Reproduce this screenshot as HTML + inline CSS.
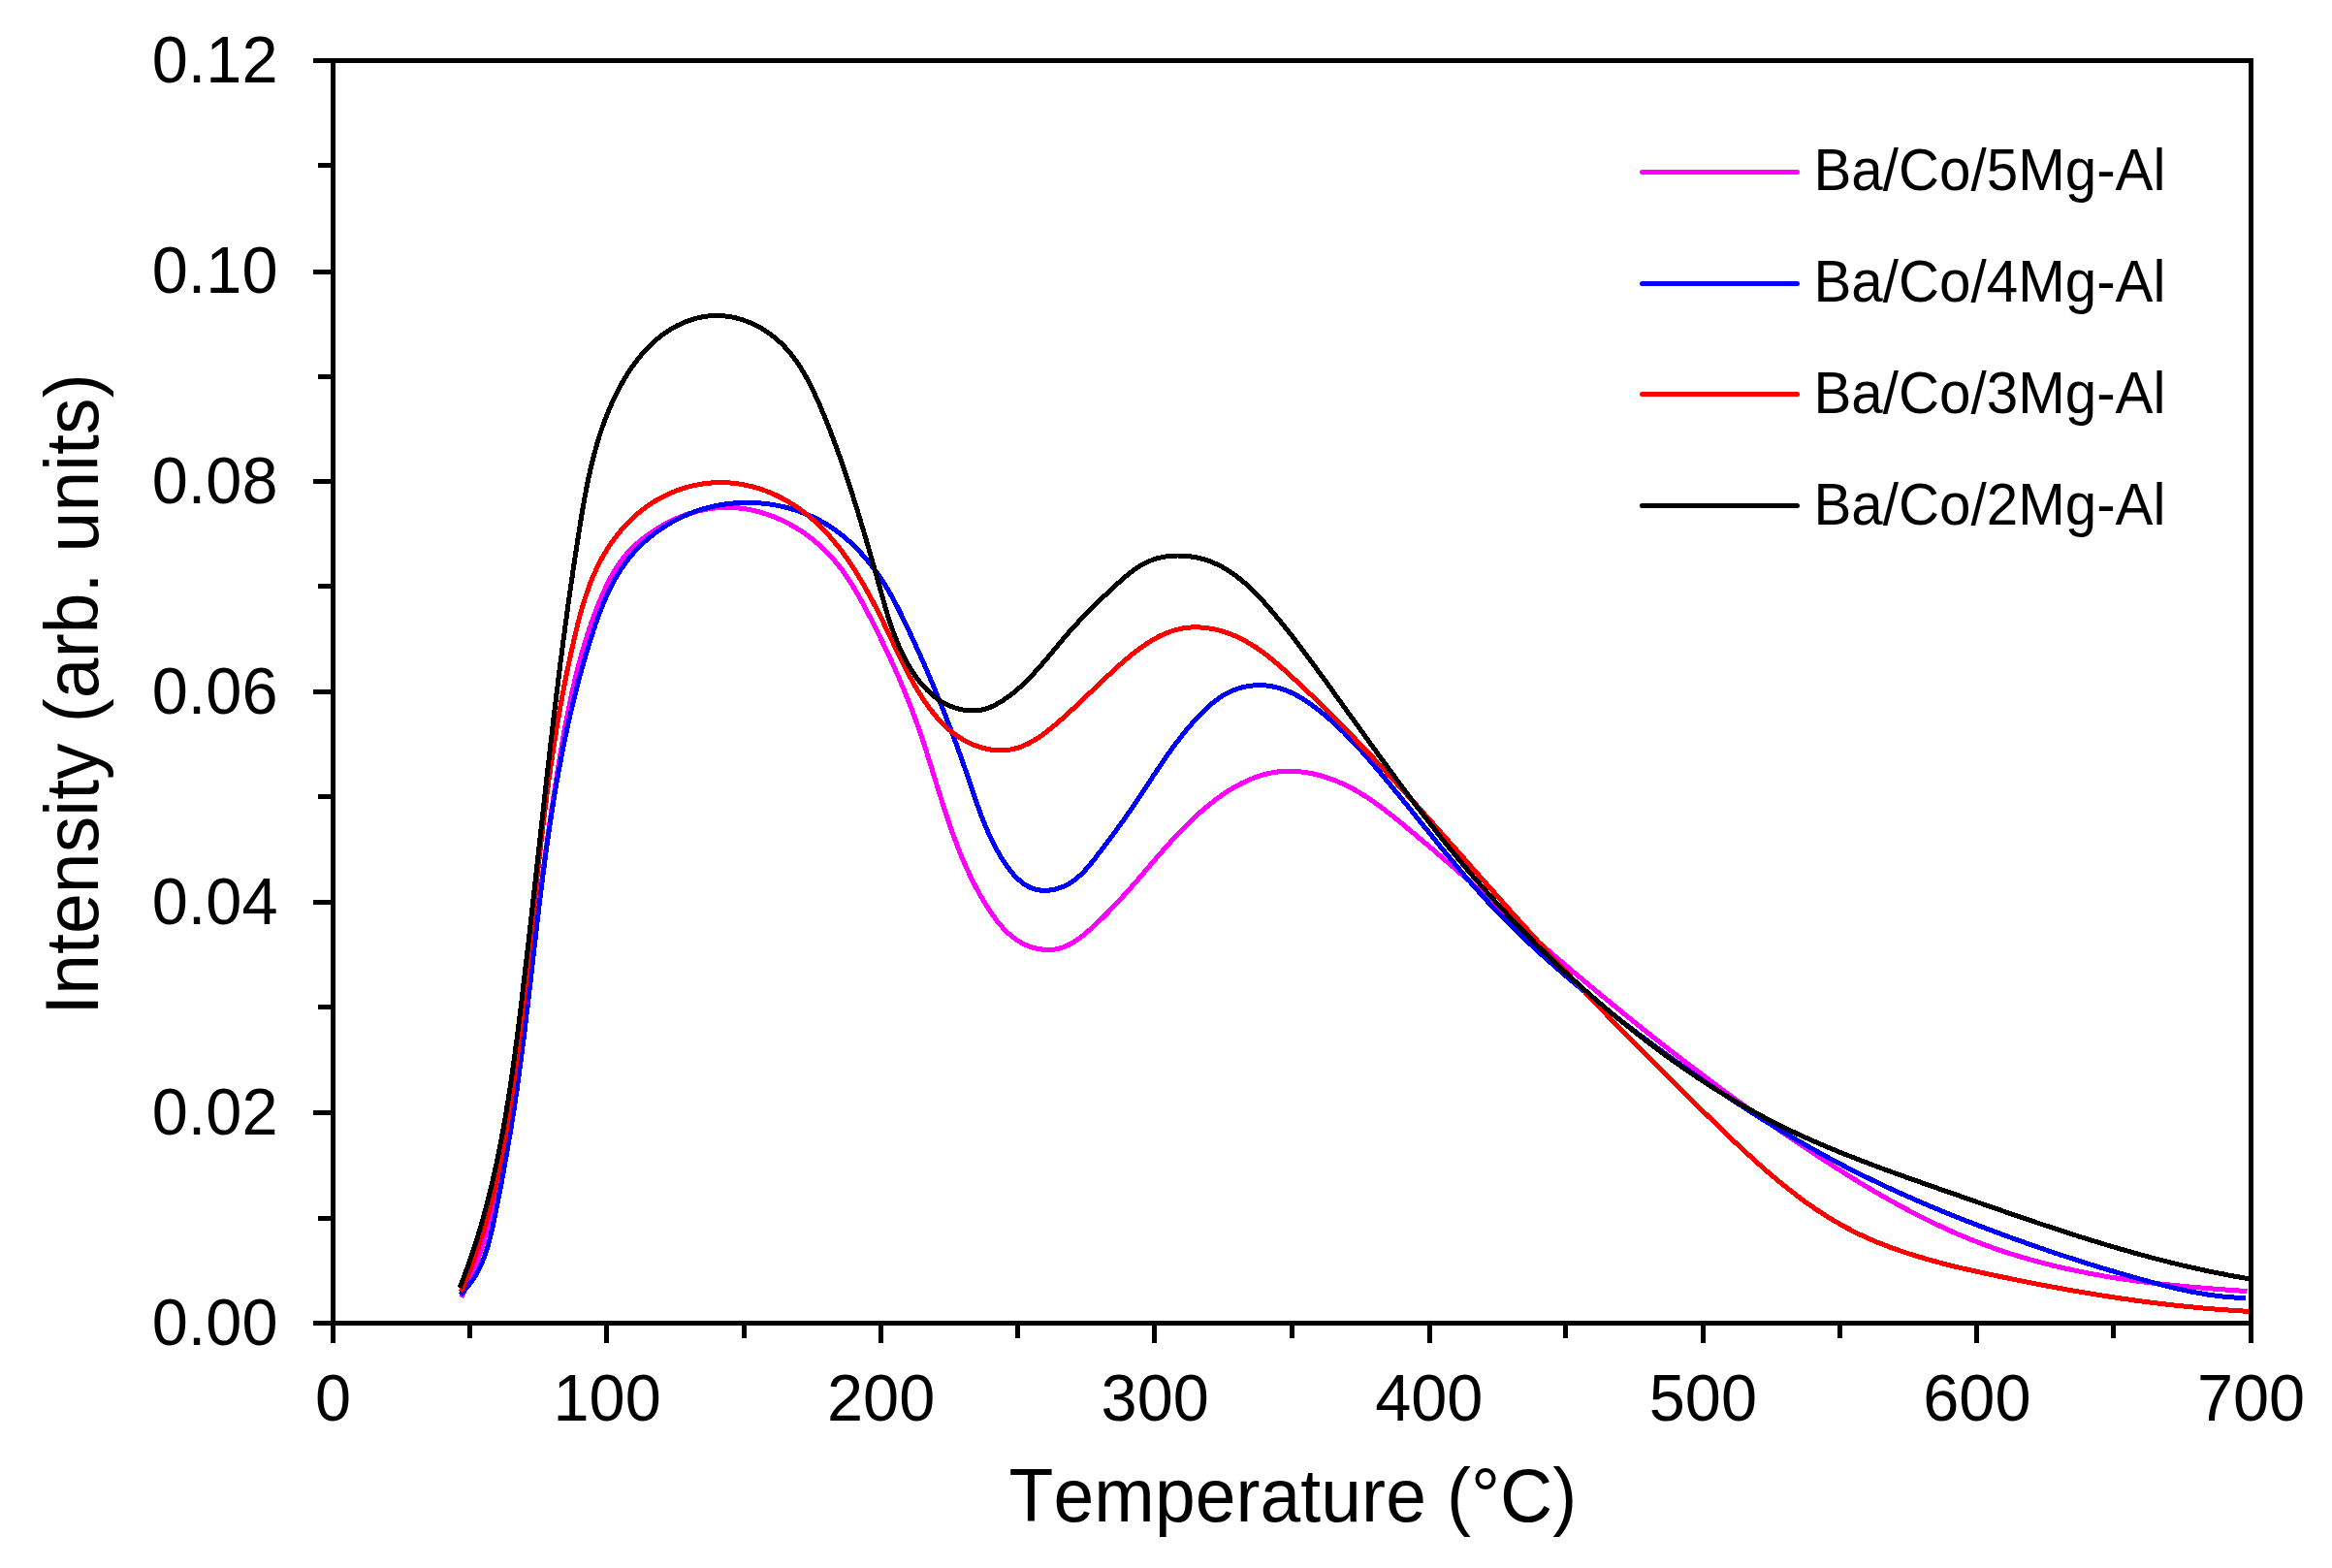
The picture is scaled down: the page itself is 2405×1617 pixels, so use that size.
<!DOCTYPE html>
<html><head><meta charset="utf-8"><title>TPD profiles</title>
<style>
html,body{margin:0;padding:0;background:#fff;}
svg{display:block;}
text{font-family:"Liberation Sans",Arial,Helvetica,sans-serif;fill:#000;font-kerning:none;}
.tk{font-size:66.67px;}
.ax{font-size:75px;}
.lg{font-size:58.33px;}
.cv{fill:none;shape-rendering:crispEdges;stroke-width:5;stroke-linejoin:round;stroke-linecap:butt;}
</style></head><body>
<svg width="2405" height="1617" viewBox="0 0 2405 1617">
<rect x="0" y="0" width="2405" height="1617" fill="#fff"/>
<path class="cv" stroke="#ff00ff" d="M475.7,1337.9 L477.1,1335.2 L478.5,1332.5 L479.8,1329.8 L481.1,1327.1 L482.4,1324.4 L483.7,1321.7 L484.9,1319.0 L486.1,1316.2 L487.2,1313.5 L488.4,1310.7 L489.5,1307.9 L490.6,1305.1 L491.6,1302.3 L492.6,1299.5 L493.7,1296.7 L494.6,1293.9 L495.6,1291.1 L496.6,1288.2 L497.5,1285.4 L498.4,1282.6 L499.3,1279.7 L500.1,1276.8 L501.0,1274.0 L501.8,1271.1 L502.6,1268.2 L503.4,1265.3 L504.2,1262.4 L504.9,1259.5 L505.7,1256.6 L506.4,1253.7 L507.1,1250.8 L507.8,1247.9 L508.5,1244.9 L509.2,1242.0 L509.8,1239.1 L510.5,1236.2 L511.1,1233.2 L511.7,1230.3 L512.4,1227.4 L513.0,1224.4 L513.6,1221.5 L514.2,1218.5 L514.8,1215.6 L515.4,1212.6 L516.0,1209.7 L516.5,1206.8 L517.1,1203.8 L517.7,1200.9 L518.2,1197.9 L518.8,1195.0 L519.3,1192.0 L519.9,1189.0 L520.4,1186.1 L520.9,1183.1 L521.4,1180.2 L522.0,1177.2 L522.5,1174.3 L523.0,1171.3 L523.5,1168.4 L524.0,1165.4 L524.5,1162.4 L525.0,1159.5 L525.5,1156.5 L525.9,1153.6 L526.4,1150.6 L526.9,1147.6 L527.3,1144.7 L527.8,1141.7 L528.3,1138.7 L528.7,1135.8 L529.2,1132.8 L529.6,1129.8 L530.1,1126.9 L530.5,1123.9 L530.9,1120.9 L531.4,1118.0 L531.8,1115.0 L532.2,1112.0 L532.7,1109.1 L533.1,1106.1 L533.5,1103.1 L533.9,1100.2 L534.3,1097.2 L534.7,1094.2 L535.1,1091.2 L535.6,1088.3 L536.0,1085.3 L536.4,1082.3 L536.8,1079.4 L537.2,1076.4 L537.5,1073.4 L537.9,1070.4 L538.3,1067.5 L538.7,1064.5 L539.1,1061.5 L539.5,1058.5 L539.9,1055.6 L540.3,1052.6 L540.7,1049.6 L541.0,1046.6 L541.4,1043.7 L541.8,1040.7 L542.2,1037.7 L542.6,1034.8 L542.9,1031.8 L543.3,1028.8 L543.7,1025.8 L544.1,1022.9 L544.5,1019.9 L544.8,1016.9 L545.2,1013.9 L545.6,1011.0 L546.0,1008.0 L546.3,1005.0 L546.7,1002.0 L547.1,999.1 L547.5,996.1 L547.8,993.1 L548.2,990.1 L548.6,987.2 L549.0,984.2 L549.3,981.2 L549.7,978.2 L550.1,975.3 L550.5,972.3 L550.8,969.3 L551.2,966.4 L551.6,963.4 L552.0,960.4 L552.4,957.4 L552.7,954.5 L553.1,951.5 L553.5,948.5 L553.9,945.5 L554.3,942.6 L554.6,939.6 L555.0,936.6 L555.4,933.7 L555.8,930.7 L556.2,927.7 L556.6,924.7 L557.0,921.8 L557.3,918.8 L557.7,915.8 L558.1,912.8 L558.5,909.9 L558.9,906.9 L559.3,903.9 L559.7,901.0 L560.1,898.0 L560.5,895.0 L560.9,892.0 L561.3,889.1 L561.7,886.1 L562.1,883.1 L562.5,880.2 L562.9,877.2 L563.3,874.2 L563.7,871.3 L564.2,868.3 L564.6,865.3 L565.0,862.3 L565.4,859.4 L565.8,856.4 L566.3,853.4 L566.7,850.5 L567.1,847.5 L567.5,844.5 L568.0,841.6 L568.4,838.6 L568.8,835.6 L569.3,832.6 L569.7,829.7 L570.2,826.7 L570.6,823.7 L571.1,820.8 L571.5,817.8 L572.0,814.8 L572.4,811.9 L572.9,808.9 L573.3,805.9 L573.8,803.0 L574.3,800.0 L574.8,797.0 L575.2,794.1 L575.7,791.1 L576.2,788.1 L576.7,785.2 L577.1,782.2 L577.6,779.2 L578.1,776.3 L578.6,773.3 L579.1,770.3 L579.6,767.4 L580.1,764.4 L580.7,761.5 L581.2,758.5 L581.7,755.5 L582.2,752.6 L582.8,749.6 L583.3,746.7 L583.9,743.7 L584.5,740.8 L585.0,737.8 L585.6,734.9 L586.2,731.9 L586.8,729.0 L587.4,726.0 L588.0,723.1 L588.6,720.2 L589.2,717.2 L589.9,714.3 L590.5,711.4 L591.2,708.5 L591.9,705.5 L592.5,702.6 L593.2,699.7 L593.9,696.8 L594.7,693.9 L595.4,691.0 L596.1,688.1 L596.9,685.2 L597.7,682.3 L598.4,679.4 L599.2,676.5 L600.0,673.6 L600.9,670.7 L601.7,667.9 L602.6,665.0 L603.4,662.1 L604.3,659.3 L605.2,656.4 L606.1,653.6 L607.1,650.7 L608.0,647.9 L609.0,645.1 L609.9,642.2 L610.9,639.4 L612.0,636.6 L613.0,633.8 L614.0,631.0 L615.1,628.2 L616.2,625.4 L617.3,622.6 L618.4,619.8 L619.6,617.0 L620.8,614.3 L622.0,611.5 L623.2,608.8 L624.5,606.1 L625.7,603.4 L627.1,600.7 L628.4,598.0 L629.8,595.4 L631.3,592.8 L632.8,590.2 L634.3,587.7 L635.9,585.2 L637.5,582.7 L639.2,580.2 L641.0,577.9 L642.8,575.5 L644.6,573.2 L646.5,570.9 L648.5,568.7 L650.6,566.6 L652.7,564.5 L654.9,562.4 L657.1,560.4 L659.4,558.4 L661.7,556.5 L664.1,554.6 L666.5,552.8 L669.0,551.0 L671.5,549.3 L674.0,547.6 L676.5,545.9 L679.1,544.3 L681.8,542.7 L684.4,541.2 L687.1,539.8 L689.8,538.4 L692.5,537.0 L695.3,535.7 L698.1,534.5 L700.9,533.3 L703.7,532.2 L706.6,531.1 L709.4,530.1 L712.3,529.2 L715.2,528.3 L718.1,527.5 L721.0,526.7 L724.0,526.1 L726.9,525.5 L729.9,524.9 L732.8,524.5 L735.8,524.1 L738.7,523.8 L741.7,523.5 L744.7,523.4 L747.6,523.3 L750.6,523.3 L753.6,523.4 L756.5,523.5 L759.5,523.7 L762.4,524.0 L765.4,524.3 L768.3,524.8 L771.2,525.2 L774.1,525.8 L777.0,526.4 L779.9,527.1 L782.8,527.8 L785.7,528.7 L788.5,529.5 L791.4,530.5 L794.2,531.5 L797.0,532.5 L799.8,533.6 L802.5,534.8 L805.3,536.0 L808.0,537.3 L810.7,538.6 L813.4,540.0 L816.0,541.5 L818.7,543.0 L821.3,544.5 L823.8,546.1 L826.4,547.7 L828.9,549.4 L831.3,551.2 L833.8,553.0 L836.2,554.8 L838.6,556.7 L840.9,558.6 L843.2,560.5 L845.5,562.5 L847.7,564.6 L849.9,566.6 L852.1,568.7 L854.2,570.9 L856.2,573.1 L858.3,575.3 L860.2,577.6 L862.2,579.8 L864.1,582.2 L865.9,584.5 L867.7,586.9 L869.5,589.3 L871.2,591.7 L872.9,594.2 L874.6,596.7 L876.2,599.2 L877.8,601.7 L879.4,604.2 L881.0,606.8 L882.5,609.4 L884.0,612.0 L885.5,614.6 L887.0,617.2 L888.4,619.8 L889.9,622.5 L891.3,625.1 L892.7,627.8 L894.1,630.4 L895.5,633.1 L896.9,635.7 L898.3,638.4 L899.6,641.1 L901.0,643.8 L902.4,646.4 L903.7,649.1 L905.1,651.8 L906.4,654.5 L907.7,657.2 L909.0,659.9 L910.3,662.6 L911.6,665.3 L912.9,668.0 L914.2,670.7 L915.5,673.4 L916.8,676.1 L918.0,678.9 L919.3,681.6 L920.5,684.3 L921.8,687.0 L923.0,689.8 L924.2,692.5 L925.4,695.3 L926.6,698.0 L927.8,700.7 L929.0,703.5 L930.1,706.3 L931.3,709.0 L932.4,711.8 L933.6,714.6 L934.7,717.3 L935.8,720.1 L936.9,722.9 L938.0,725.7 L939.1,728.5 L940.2,731.3 L941.2,734.1 L942.3,736.9 L943.3,739.7 L944.4,742.5 L945.4,745.3 L946.4,748.1 L947.4,751.0 L948.4,753.8 L949.3,756.6 L950.3,759.5 L951.3,762.3 L952.2,765.2 L953.1,768.0 L954.1,770.9 L955.0,773.7 L955.9,776.6 L956.8,779.5 L957.7,782.3 L958.6,785.2 L959.5,788.1 L960.4,790.9 L961.3,793.8 L962.2,796.7 L963.1,799.5 L963.9,802.4 L964.8,805.3 L965.7,808.1 L966.6,811.0 L967.5,813.9 L968.4,816.7 L969.3,819.6 L970.2,822.5 L971.1,825.3 L972.0,828.2 L972.9,831.1 L973.8,833.9 L974.7,836.8 L975.7,839.6 L976.6,842.5 L977.6,845.3 L978.5,848.1 L979.5,851.0 L980.5,853.8 L981.5,856.6 L982.5,859.5 L983.5,862.3 L984.6,865.1 L985.6,867.9 L986.7,870.7 L987.8,873.5 L988.8,876.3 L990.0,879.0 L991.1,881.8 L992.2,884.6 L993.4,887.3 L994.6,890.1 L995.8,892.8 L997.0,895.5 L998.3,898.3 L999.5,901.0 L1000.8,903.7 L1002.1,906.4 L1003.5,909.1 L1004.8,911.7 L1006.2,914.4 L1007.6,917.1 L1009.1,919.7 L1010.5,922.3 L1012.0,925.0 L1013.6,927.6 L1015.1,930.2 L1016.7,932.8 L1018.3,935.3 L1020.0,937.9 L1021.6,940.4 L1023.3,943.0 L1025.1,945.4 L1026.9,947.9 L1028.7,950.3 L1030.6,952.6 L1032.6,954.9 L1034.6,957.2 L1036.6,959.3 L1038.7,961.4 L1040.9,963.4 L1043.2,965.3 L1045.5,967.1 L1047.9,968.9 L1050.3,970.5 L1052.9,972.0 L1055.5,973.4 L1058.2,974.6 L1061.0,975.7 L1063.8,976.7 L1066.8,977.6 L1069.8,978.3 L1072.8,978.8 L1075.8,979.2 L1078.9,979.4 L1081.9,979.4 L1084.9,979.3 L1087.9,979.0 L1090.8,978.5 L1093.6,977.8 L1096.4,976.9 L1099.1,975.8 L1101.8,974.6 L1104.4,973.2 L1106.9,971.8 L1109.4,970.2 L1111.9,968.5 L1114.3,966.7 L1116.7,964.8 L1119.1,962.9 L1121.4,960.9 L1123.7,958.9 L1125.9,956.9 L1128.2,954.8 L1130.4,952.8 L1132.6,950.7 L1134.8,948.6 L1137.0,946.5 L1139.1,944.4 L1141.3,942.2 L1143.4,940.1 L1145.5,937.9 L1147.5,935.8 L1149.6,933.6 L1151.7,931.4 L1153.7,929.2 L1155.8,927.0 L1157.8,924.8 L1159.8,922.6 L1161.8,920.4 L1163.8,918.2 L1165.8,915.9 L1167.7,913.7 L1169.7,911.4 L1171.7,909.2 L1173.6,906.9 L1175.6,904.7 L1177.5,902.4 L1179.5,900.1 L1181.4,897.9 L1183.4,895.6 L1185.3,893.3 L1187.3,891.0 L1189.2,888.8 L1191.2,886.5 L1193.1,884.2 L1195.1,882.0 L1197.1,879.7 L1199.0,877.5 L1201.0,875.2 L1203.0,873.0 L1205.0,870.7 L1207.0,868.5 L1209.0,866.3 L1211.0,864.1 L1213.1,861.9 L1215.1,859.7 L1217.2,857.6 L1219.3,855.4 L1221.4,853.3 L1223.5,851.2 L1225.6,849.0 L1227.7,847.0 L1229.9,844.9 L1232.1,842.8 L1234.3,840.8 L1236.5,838.8 L1238.8,836.8 L1241.0,834.8 L1243.3,832.9 L1245.7,831.0 L1248.0,829.1 L1250.4,827.2 L1252.8,825.4 L1255.2,823.6 L1257.7,821.8 L1260.1,820.0 L1262.7,818.3 L1265.2,816.6 L1267.7,815.0 L1270.3,813.4 L1272.9,811.9 L1275.6,810.4 L1278.2,809.0 L1280.9,807.6 L1283.6,806.3 L1286.3,805.0 L1289.0,803.8 L1291.8,802.7 L1294.6,801.7 L1297.4,800.7 L1300.2,799.8 L1303.1,798.9 L1305.9,798.2 L1308.8,797.5 L1311.7,796.9 L1314.6,796.4 L1317.5,796.0 L1320.5,795.7 L1323.4,795.5 L1326.4,795.3 L1329.4,795.3 L1332.4,795.3 L1335.4,795.5 L1338.4,795.7 L1341.4,795.9 L1344.4,796.3 L1347.4,796.7 L1350.4,797.3 L1353.4,797.8 L1356.3,798.5 L1359.3,799.2 L1362.2,800.0 L1365.2,800.9 L1368.1,801.8 L1370.9,802.7 L1373.8,803.8 L1376.6,804.8 L1379.4,806.0 L1382.1,807.1 L1384.9,808.4 L1387.6,809.7 L1390.3,811.0 L1392.9,812.3 L1395.6,813.7 L1398.2,815.2 L1400.7,816.7 L1403.3,818.2 L1405.9,819.8 L1408.4,821.4 L1410.9,823.0 L1413.4,824.6 L1415.8,826.3 L1418.3,828.0 L1420.7,829.8 L1423.1,831.5 L1425.5,833.3 L1427.9,835.1 L1430.3,837.0 L1432.7,838.8 L1435.1,840.7 L1437.4,842.5 L1439.8,844.4 L1442.1,846.3 L1444.4,848.2 L1446.8,850.1 L1449.1,852.0 L1451.4,854.0 L1453.7,855.9 L1456.0,857.8 L1458.3,859.7 L1460.6,861.7 L1462.9,863.6 L1465.2,865.5 L1467.5,867.5 L1469.8,869.4 L1472.1,871.3 L1474.4,873.3 L1476.7,875.2 L1478.9,877.2 L1481.2,879.1 L1483.5,881.1 L1485.8,883.1 L1488.0,885.0 L1490.3,887.0 L1492.6,888.9 L1494.8,890.9 L1497.1,892.9 L1499.4,894.8 L1501.6,896.8 L1503.9,898.8 L1506.1,900.7 L1508.4,902.7 L1510.6,904.7 L1512.9,906.7 L1515.2,908.6 L1517.4,910.6 L1519.7,912.6 L1521.9,914.6 L1524.2,916.5 L1526.4,918.5 L1528.6,920.5 L1530.9,922.5 L1533.1,924.5 L1535.4,926.4 L1537.6,928.4 L1539.9,930.4 L1542.1,932.4 L1544.4,934.4 L1546.6,936.3 L1548.9,938.3 L1551.1,940.3 L1553.4,942.3 L1555.6,944.3 L1557.9,946.2 L1560.1,948.2 L1562.4,950.2 L1564.6,952.2 L1566.9,954.1 L1569.1,956.1 L1571.4,958.1 L1573.6,960.1 L1575.9,962.0 L1578.1,964.0 L1580.4,966.0 L1582.6,967.9 L1584.9,969.9 L1587.2,971.9 L1589.4,973.8 L1591.7,975.8 L1594.0,977.8 L1596.2,979.7 L1598.5,981.7 L1600.8,983.6 L1603.1,985.6 L1605.4,987.5 L1607.6,989.5 L1609.9,991.4 L1612.2,993.4 L1614.5,995.3 L1616.8,997.3 L1619.1,999.2 L1621.4,1001.2 L1623.7,1003.1 L1626.0,1005.0 L1628.2,1007.0 L1630.5,1008.9 L1632.8,1010.8 L1635.2,1012.8 L1637.5,1014.7 L1639.8,1016.6 L1642.1,1018.5 L1644.4,1020.4 L1646.7,1022.4 L1649.0,1024.3 L1651.3,1026.2 L1653.6,1028.1 L1656.0,1030.0 L1658.3,1031.9 L1660.6,1033.8 L1662.9,1035.7 L1665.3,1037.6 L1667.6,1039.5 L1669.9,1041.4 L1672.3,1043.3 L1674.6,1045.2 L1676.9,1047.1 L1679.3,1049.0 L1681.6,1050.9 L1683.9,1052.7 L1686.3,1054.6 L1688.6,1056.5 L1691.0,1058.4 L1693.3,1060.2 L1695.7,1062.1 L1698.0,1064.0 L1700.4,1065.8 L1702.7,1067.7 L1705.1,1069.6 L1707.4,1071.4 L1709.8,1073.3 L1712.2,1075.1 L1714.5,1077.0 L1716.9,1078.8 L1719.3,1080.6 L1721.6,1082.5 L1724.0,1084.3 L1726.4,1086.2 L1728.7,1088.0 L1731.1,1089.8 L1733.5,1091.6 L1735.9,1093.5 L1738.3,1095.3 L1740.6,1097.1 L1743.0,1098.9 L1745.4,1100.7 L1747.8,1102.5 L1750.2,1104.3 L1752.6,1106.2 L1755.0,1108.0 L1757.4,1109.7 L1759.8,1111.5 L1762.2,1113.3 L1764.5,1115.1 L1767.0,1116.9 L1769.4,1118.7 L1771.8,1120.5 L1774.2,1122.2 L1776.6,1124.0 L1779.0,1125.8 L1781.4,1127.6 L1783.8,1129.3 L1786.2,1131.1 L1788.7,1132.8 L1791.1,1134.6 L1793.5,1136.3 L1795.9,1138.1 L1798.4,1139.8 L1800.8,1141.6 L1803.2,1143.3 L1805.7,1145.1 L1808.1,1146.8 L1810.5,1148.5 L1813.0,1150.2 L1815.4,1152.0 L1817.9,1153.7 L1820.3,1155.4 L1822.8,1157.1 L1825.2,1158.8 L1827.7,1160.5 L1830.1,1162.2 L1832.6,1163.9 L1835.1,1165.6 L1837.5,1167.3 L1840.0,1169.0 L1842.5,1170.7 L1845.0,1172.4 L1847.4,1174.1 L1849.9,1175.7 L1852.4,1177.4 L1854.9,1179.1 L1857.4,1180.7 L1859.9,1182.4 L1862.4,1184.1 L1864.9,1185.7 L1867.4,1187.4 L1869.9,1189.0 L1872.4,1190.7 L1874.9,1192.3 L1877.4,1194.0 L1879.9,1195.6 L1882.5,1197.2 L1885.0,1198.8 L1887.5,1200.5 L1890.1,1202.1 L1892.6,1203.7 L1895.1,1205.3 L1897.7,1206.9 L1900.2,1208.5 L1902.8,1210.1 L1905.3,1211.7 L1907.9,1213.3 L1910.4,1214.9 L1913.0,1216.5 L1915.6,1218.0 L1918.1,1219.6 L1920.7,1221.2 L1923.3,1222.7 L1925.9,1224.3 L1928.5,1225.8 L1931.1,1227.3 L1933.6,1228.9 L1936.2,1230.4 L1938.8,1231.9 L1941.5,1233.4 L1944.1,1234.9 L1946.7,1236.4 L1949.3,1237.8 L1951.9,1239.3 L1954.6,1240.8 L1957.2,1242.2 L1959.8,1243.7 L1962.5,1245.1 L1965.1,1246.5 L1967.8,1247.9 L1970.4,1249.3 L1973.1,1250.7 L1975.7,1252.1 L1978.4,1253.5 L1981.1,1254.8 L1983.8,1256.2 L1986.5,1257.5 L1989.1,1258.9 L1991.8,1260.2 L1994.5,1261.5 L1997.2,1262.8 L2000.0,1264.0 L2002.7,1265.3 L2005.4,1266.6 L2008.1,1267.8 L2010.8,1269.0 L2013.6,1270.3 L2016.3,1271.5 L2019.1,1272.7 L2021.8,1273.8 L2024.6,1275.0 L2027.3,1276.1 L2030.1,1277.3 L2032.9,1278.4 L2035.7,1279.5 L2038.5,1280.6 L2041.2,1281.6 L2044.0,1282.7 L2046.8,1283.8 L2049.7,1284.8 L2052.5,1285.8 L2055.3,1286.8 L2058.1,1287.8 L2060.9,1288.8 L2063.8,1289.7 L2066.6,1290.7 L2069.5,1291.6 L2072.3,1292.5 L2075.2,1293.4 L2078.0,1294.3 L2080.9,1295.2 L2083.7,1296.0 L2086.6,1296.9 L2089.5,1297.7 L2092.4,1298.5 L2095.2,1299.4 L2098.1,1300.1 L2101.0,1300.9 L2103.9,1301.7 L2106.8,1302.5 L2109.7,1303.2 L2112.6,1303.9 L2115.5,1304.7 L2118.4,1305.4 L2121.4,1306.1 L2124.3,1306.8 L2127.2,1307.4 L2130.1,1308.1 L2133.1,1308.7 L2136.0,1309.4 L2138.9,1310.0 L2141.9,1310.6 L2144.8,1311.2 L2147.7,1311.8 L2150.7,1312.4 L2153.6,1313.0 L2156.6,1313.5 L2159.5,1314.1 L2162.5,1314.6 L2165.4,1315.1 L2168.4,1315.7 L2171.4,1316.2 L2174.3,1316.7 L2177.3,1317.2 L2180.2,1317.6 L2183.2,1318.1 L2186.2,1318.5 L2189.2,1319.0 L2192.1,1319.4 L2195.1,1319.9 L2198.1,1320.3 L2201.0,1320.7 L2204.0,1321.1 L2207.0,1321.5 L2210.0,1321.9 L2213.0,1322.2 L2215.9,1322.6 L2218.9,1323.0 L2221.9,1323.3 L2224.9,1323.6 L2227.9,1324.0 L2230.8,1324.3 L2233.8,1324.6 L2236.8,1324.9 L2239.8,1325.3 L2242.8,1325.6 L2245.8,1325.9 L2248.8,1326.1 L2251.8,1326.4 L2254.7,1326.7 L2257.7,1327.0 L2260.7,1327.3 L2263.7,1327.5 L2266.7,1327.8 L2269.7,1328.0 L2272.7,1328.3 L2275.7,1328.5 L2278.7,1328.8 L2281.6,1329.0 L2284.6,1329.2 L2287.6,1329.5 L2290.6,1329.7 L2293.6,1329.9 L2296.6,1330.1 L2299.6,1330.4 L2302.5,1330.6 L2305.5,1330.8 L2308.5,1331.0 L2311.5,1331.2 L2314.5,1331.4 L2317.5,1331.6"/>
<path class="cv" stroke="#0000ff" d="M474.6,1335.0 L476.9,1332.7 L479.1,1330.4 L481.2,1328.1 L483.2,1325.7 L485.0,1323.3 L486.8,1320.8 L488.5,1318.3 L490.1,1315.8 L491.6,1313.2 L493.0,1310.6 L494.4,1307.9 L495.7,1305.3 L496.9,1302.6 L498.0,1299.8 L499.1,1297.1 L500.1,1294.3 L501.1,1291.5 L502.0,1288.7 L502.9,1285.8 L503.7,1283.0 L504.5,1280.1 L505.2,1277.2 L506.0,1274.3 L506.6,1271.4 L507.3,1268.4 L508.0,1265.5 L508.6,1262.6 L509.2,1259.6 L509.8,1256.7 L510.4,1253.7 L511.0,1250.8 L511.6,1247.8 L512.2,1244.9 L512.8,1242.0 L513.4,1239.0 L514.0,1236.1 L514.5,1233.1 L515.1,1230.2 L515.7,1227.2 L516.2,1224.3 L516.8,1221.3 L517.4,1218.4 L517.9,1215.4 L518.5,1212.5 L519.0,1209.5 L519.5,1206.6 L520.1,1203.6 L520.6,1200.7 L521.1,1197.7 L521.7,1194.8 L522.2,1191.8 L522.7,1188.9 L523.2,1185.9 L523.7,1183.0 L524.2,1180.0 L524.7,1177.1 L525.2,1174.1 L525.7,1171.2 L526.2,1168.2 L526.7,1165.2 L527.2,1162.3 L527.7,1159.3 L528.1,1156.4 L528.6,1153.4 L529.1,1150.4 L529.5,1147.5 L530.0,1144.5 L530.4,1141.6 L530.9,1138.6 L531.3,1135.6 L531.8,1132.7 L532.2,1129.7 L532.6,1126.7 L533.1,1123.8 L533.5,1120.8 L533.9,1117.8 L534.3,1114.9 L534.7,1111.9 L535.1,1108.9 L535.5,1106.0 L535.9,1103.0 L536.3,1100.0 L536.7,1097.0 L537.1,1094.1 L537.5,1091.1 L537.9,1088.1 L538.3,1085.2 L538.7,1082.2 L539.0,1079.2 L539.4,1076.2 L539.8,1073.3 L540.2,1070.3 L540.5,1067.3 L540.9,1064.3 L541.3,1061.3 L541.6,1058.4 L542.0,1055.4 L542.3,1052.4 L542.7,1049.4 L543.0,1046.4 L543.4,1043.5 L543.8,1040.5 L544.1,1037.5 L544.5,1034.5 L544.8,1031.5 L545.1,1028.6 L545.5,1025.6 L545.8,1022.6 L546.2,1019.6 L546.5,1016.6 L546.9,1013.7 L547.2,1010.7 L547.5,1007.7 L547.9,1004.7 L548.2,1001.7 L548.6,998.7 L548.9,995.8 L549.2,992.8 L549.6,989.8 L549.9,986.8 L550.3,983.8 L550.6,980.8 L550.9,977.9 L551.3,974.9 L551.6,971.9 L552.0,968.9 L552.3,965.9 L552.6,963.0 L553.0,960.0 L553.3,957.0 L553.7,954.0 L554.0,951.0 L554.4,948.0 L554.7,945.1 L555.1,942.1 L555.4,939.1 L555.8,936.1 L556.1,933.1 L556.5,930.2 L556.9,927.2 L557.2,924.2 L557.6,921.2 L558.0,918.3 L558.3,915.3 L558.7,912.3 L559.1,909.3 L559.4,906.4 L559.8,903.4 L560.2,900.4 L560.6,897.4 L561.0,894.5 L561.4,891.5 L561.8,888.5 L562.1,885.5 L562.5,882.6 L562.9,879.6 L563.4,876.6 L563.8,873.6 L564.2,870.7 L564.6,867.7 L565.0,864.7 L565.4,861.8 L565.9,858.8 L566.3,855.8 L566.7,852.9 L567.2,849.9 L567.6,847.0 L568.1,844.0 L568.5,841.0 L569.0,838.1 L569.4,835.1 L569.9,832.1 L570.4,829.2 L570.8,826.2 L571.3,823.3 L571.8,820.3 L572.3,817.4 L572.8,814.4 L573.3,811.5 L573.8,808.5 L574.3,805.5 L574.8,802.6 L575.4,799.7 L575.9,796.7 L576.4,793.8 L577.0,790.8 L577.5,787.9 L578.1,784.9 L578.6,782.0 L579.2,779.0 L579.8,776.1 L580.4,773.2 L580.9,770.2 L581.5,767.3 L582.1,764.3 L582.7,761.4 L583.4,758.5 L584.0,755.5 L584.6,752.6 L585.2,749.7 L585.9,746.8 L586.5,743.8 L587.2,740.9 L587.8,738.0 L588.5,735.1 L589.2,732.1 L589.9,729.2 L590.6,726.3 L591.3,723.4 L592.0,720.5 L592.7,717.6 L593.4,714.6 L594.2,711.7 L594.9,708.8 L595.7,705.9 L596.4,703.0 L597.2,700.1 L598.0,697.2 L598.8,694.3 L599.6,691.4 L600.4,688.5 L601.2,685.6 L602.0,682.7 L602.8,679.8 L603.7,676.9 L604.5,674.0 L605.4,671.2 L606.3,668.3 L607.2,665.4 L608.1,662.5 L609.0,659.6 L609.9,656.7 L610.8,653.9 L611.7,651.0 L612.7,648.1 L613.6,645.3 L614.6,642.4 L615.6,639.6 L616.6,636.7 L617.7,633.9 L618.7,631.1 L619.8,628.3 L620.9,625.5 L622.0,622.7 L623.2,619.9 L624.4,617.2 L625.6,614.5 L626.8,611.8 L628.1,609.1 L629.4,606.4 L630.8,603.7 L632.1,601.1 L633.6,598.5 L635.0,595.9 L636.5,593.4 L638.0,590.9 L639.6,588.4 L641.2,585.9 L642.9,583.5 L644.6,581.1 L646.3,578.7 L648.2,576.3 L650.0,574.0 L651.9,571.8 L653.9,569.5 L655.9,567.3 L657.9,565.2 L660.0,563.1 L662.2,561.0 L664.4,559.0 L666.7,557.0 L668.9,555.0 L671.3,553.1 L673.7,551.2 L676.1,549.4 L678.5,547.6 L681.0,545.9 L683.5,544.2 L686.1,542.6 L688.7,541.0 L691.3,539.4 L694.0,537.9 L696.6,536.5 L699.4,535.1 L702.1,533.8 L704.9,532.5 L707.6,531.2 L710.4,530.1 L713.3,528.9 L716.1,527.9 L719.0,526.9 L721.9,525.9 L724.7,525.0 L727.7,524.2 L730.6,523.4 L733.5,522.7 L736.5,522.0 L739.4,521.4 L742.4,520.8 L745.4,520.3 L748.3,519.9 L751.3,519.5 L754.3,519.2 L757.3,518.9 L760.3,518.7 L763.3,518.5 L766.3,518.4 L769.3,518.4 L772.3,518.4 L775.3,518.4 L778.3,518.5 L781.3,518.7 L784.3,518.9 L787.3,519.2 L790.3,519.5 L793.3,519.9 L796.2,520.4 L799.2,520.9 L802.1,521.4 L805.0,522.0 L808.0,522.7 L810.9,523.4 L813.8,524.1 L816.6,525.0 L819.5,525.8 L822.3,526.8 L825.1,527.7 L827.9,528.8 L830.7,529.9 L833.4,531.0 L836.2,532.2 L838.9,533.4 L841.5,534.7 L844.2,536.1 L846.8,537.5 L849.4,539.0 L852.0,540.5 L854.5,542.0 L857.0,543.6 L859.5,545.3 L861.9,547.0 L864.3,548.8 L866.7,550.6 L869.1,552.5 L871.4,554.4 L873.6,556.3 L875.9,558.3 L878.1,560.3 L880.3,562.4 L882.4,564.5 L884.5,566.7 L886.6,568.8 L888.6,571.1 L890.6,573.3 L892.6,575.6 L894.6,577.9 L896.5,580.2 L898.3,582.6 L900.2,585.0 L902.0,587.4 L903.8,589.8 L905.5,592.3 L907.2,594.8 L908.9,597.3 L910.5,599.8 L912.1,602.3 L913.7,604.9 L915.2,607.4 L916.8,610.0 L918.3,612.6 L919.7,615.2 L921.2,617.8 L922.6,620.5 L924.0,623.1 L925.4,625.8 L926.7,628.4 L928.1,631.1 L929.4,633.8 L930.7,636.5 L932.0,639.2 L933.3,641.9 L934.6,644.6 L935.9,647.3 L937.2,650.0 L938.4,652.7 L939.7,655.4 L941.0,658.2 L942.2,660.9 L943.5,663.6 L944.7,666.4 L945.9,669.1 L947.2,671.8 L948.4,674.6 L949.6,677.3 L950.8,680.1 L952.1,682.8 L953.3,685.6 L954.5,688.3 L955.7,691.1 L956.9,693.8 L958.0,696.6 L959.2,699.4 L960.4,702.1 L961.6,704.9 L962.7,707.7 L963.9,710.5 L965.0,713.2 L966.2,716.0 L967.3,718.8 L968.5,721.6 L969.6,724.4 L970.7,727.2 L971.8,729.9 L972.9,732.7 L974.1,735.5 L975.2,738.3 L976.3,741.1 L977.3,743.9 L978.4,746.7 L979.5,749.5 L980.6,752.3 L981.6,755.1 L982.7,757.9 L983.7,760.7 L984.8,763.5 L985.8,766.4 L986.9,769.2 L987.9,772.0 L988.9,774.8 L989.9,777.6 L990.9,780.4 L991.9,783.2 L992.9,786.1 L993.9,788.9 L994.9,791.7 L995.9,794.5 L996.8,797.3 L997.8,800.1 L998.8,803.0 L999.7,805.8 L1000.7,808.6 L1001.6,811.4 L1002.5,814.3 L1003.5,817.1 L1004.4,819.9 L1005.4,822.7 L1006.4,825.5 L1007.4,828.3 L1008.3,831.1 L1009.4,833.9 L1010.4,836.7 L1011.4,839.5 L1012.5,842.3 L1013.6,845.1 L1014.7,847.9 L1015.8,850.6 L1017.0,853.4 L1018.1,856.2 L1019.4,858.9 L1020.6,861.7 L1021.9,864.4 L1023.2,867.1 L1024.6,869.8 L1026.0,872.6 L1027.4,875.3 L1028.9,877.9 L1030.5,880.6 L1032.0,883.3 L1033.7,885.9 L1035.4,888.6 L1037.1,891.2 L1038.9,893.8 L1040.8,896.3 L1042.7,898.7 L1044.6,901.1 L1046.7,903.3 L1048.8,905.5 L1051.0,907.5 L1053.2,909.4 L1055.5,911.2 L1057.9,912.7 L1060.3,914.2 L1062.9,915.4 L1065.5,916.4 L1068.2,917.2 L1071.0,917.8 L1073.8,918.2 L1076.7,918.3 L1079.6,918.3 L1082.5,918.0 L1085.5,917.6 L1088.4,917.0 L1091.3,916.2 L1094.1,915.2 L1096.9,914.1 L1099.6,912.8 L1102.3,911.4 L1104.8,909.8 L1107.3,908.1 L1109.7,906.3 L1112.0,904.4 L1114.2,902.4 L1116.4,900.3 L1118.5,898.1 L1120.6,895.8 L1122.6,893.5 L1124.6,891.1 L1126.6,888.7 L1128.5,886.3 L1130.4,883.9 L1132.2,881.4 L1134.1,879.0 L1135.9,876.5 L1137.7,874.1 L1139.6,871.7 L1141.4,869.3 L1143.2,866.9 L1144.9,864.5 L1146.7,862.2 L1148.5,859.8 L1150.3,857.4 L1152.0,855.1 L1153.7,852.7 L1155.5,850.3 L1157.2,847.9 L1158.9,845.6 L1160.6,843.2 L1162.3,840.7 L1164.0,838.3 L1165.7,835.9 L1167.4,833.4 L1169.0,831.0 L1170.7,828.5 L1172.4,826.0 L1174.0,823.5 L1175.7,821.0 L1177.3,818.5 L1179.0,816.0 L1180.6,813.5 L1182.3,811.0 L1183.9,808.5 L1185.6,806.0 L1187.3,803.4 L1188.9,800.9 L1190.6,798.4 L1192.3,795.9 L1193.9,793.4 L1195.6,790.9 L1197.3,788.4 L1199.0,785.9 L1200.8,783.4 L1202.5,780.9 L1204.2,778.4 L1206.0,775.9 L1207.7,773.5 L1209.5,771.0 L1211.3,768.6 L1213.1,766.2 L1214.9,763.8 L1216.8,761.4 L1218.6,759.0 L1220.5,756.7 L1222.4,754.4 L1224.3,752.0 L1226.2,749.7 L1228.2,747.5 L1230.2,745.2 L1232.2,743.0 L1234.2,740.8 L1236.2,738.6 L1238.3,736.4 L1240.4,734.3 L1242.5,732.2 L1244.7,730.2 L1246.9,728.2 L1249.2,726.2 L1251.4,724.3 L1253.8,722.5 L1256.2,720.7 L1258.6,719.0 L1261.1,717.4 L1263.6,715.9 L1266.3,714.5 L1269.0,713.2 L1271.7,712.0 L1274.5,710.9 L1277.4,709.9 L1280.4,709.0 L1283.4,708.3 L1286.5,707.7 L1289.6,707.3 L1292.7,706.9 L1295.8,706.7 L1298.8,706.6 L1301.9,706.7 L1304.9,706.9 L1307.9,707.2 L1310.8,707.6 L1313.7,708.2 L1316.6,708.9 L1319.4,709.6 L1322.2,710.5 L1325.0,711.5 L1327.7,712.6 L1330.4,713.7 L1333.1,715.0 L1335.8,716.3 L1338.4,717.7 L1341.0,719.2 L1343.5,720.7 L1346.1,722.3 L1348.6,724.0 L1351.1,725.7 L1353.5,727.4 L1355.9,729.2 L1358.3,731.0 L1360.7,732.9 L1363.1,734.8 L1365.4,736.7 L1367.7,738.6 L1370.0,740.6 L1372.2,742.6 L1374.5,744.6 L1376.7,746.6 L1378.9,748.6 L1381.1,750.7 L1383.2,752.8 L1385.4,754.8 L1387.5,757.0 L1389.6,759.1 L1391.7,761.2 L1393.8,763.4 L1395.8,765.6 L1397.9,767.8 L1399.9,769.9 L1401.9,772.2 L1404.0,774.4 L1406.0,776.6 L1408.0,778.9 L1409.9,781.1 L1411.9,783.4 L1413.9,785.6 L1415.8,787.9 L1417.8,790.2 L1419.7,792.5 L1421.7,794.8 L1423.6,797.0 L1425.5,799.3 L1427.5,801.6 L1429.4,803.9 L1431.3,806.3 L1433.2,808.6 L1435.1,810.9 L1437.0,813.2 L1438.9,815.5 L1440.8,817.8 L1442.7,820.2 L1444.6,822.5 L1446.5,824.8 L1448.4,827.2 L1450.3,829.5 L1452.2,831.8 L1454.1,834.2 L1456.0,836.5 L1457.9,838.8 L1459.7,841.2 L1461.6,843.5 L1463.5,845.9 L1465.4,848.2 L1467.3,850.5 L1469.2,852.9 L1471.1,855.2 L1472.9,857.5 L1474.8,859.9 L1476.7,862.2 L1478.6,864.5 L1480.5,866.9 L1482.4,869.2 L1484.3,871.5 L1486.2,873.9 L1488.1,876.2 L1490.0,878.5 L1491.9,880.8 L1493.8,883.1 L1495.7,885.4 L1497.6,887.7 L1499.6,890.0 L1501.5,892.3 L1503.4,894.6 L1505.3,896.9 L1507.3,899.2 L1509.2,901.5 L1511.2,903.8 L1513.1,906.0 L1515.1,908.3 L1517.1,910.6 L1519.0,912.8 L1521.0,915.1 L1523.0,917.3 L1525.0,919.5 L1527.0,921.8 L1529.0,924.0 L1531.0,926.2 L1533.0,928.4 L1535.1,930.6 L1537.1,932.8 L1539.2,935.0 L1541.2,937.1 L1543.3,939.3 L1545.3,941.5 L1547.4,943.6 L1549.5,945.8 L1551.6,947.9 L1553.7,950.0 L1555.8,952.1 L1558.0,954.3 L1560.1,956.4 L1562.2,958.5 L1564.4,960.6 L1566.5,962.6 L1568.7,964.7 L1570.9,966.8 L1573.0,968.8 L1575.2,970.9 L1577.4,973.0 L1579.6,975.0 L1581.8,977.0 L1584.0,979.1 L1586.2,981.1 L1588.4,983.1 L1590.6,985.1 L1592.9,987.1 L1595.1,989.1 L1597.3,991.1 L1599.6,993.1 L1601.8,995.1 L1604.1,997.1 L1606.4,999.0 L1608.6,1001.0 L1610.9,1003.0 L1613.2,1004.9 L1615.4,1006.9 L1617.7,1008.8 L1620.0,1010.8 L1622.3,1012.7 L1624.6,1014.6 L1626.9,1016.5 L1629.2,1018.5 L1631.5,1020.4 L1633.8,1022.3 L1636.1,1024.2 L1638.5,1026.1 L1640.8,1028.0 L1643.1,1029.9 L1645.4,1031.8 L1647.8,1033.7 L1650.1,1035.5 L1652.5,1037.4 L1654.8,1039.3 L1657.2,1041.1 L1659.5,1043.0 L1661.9,1044.9 L1664.2,1046.7 L1666.6,1048.6 L1669.0,1050.4 L1671.3,1052.2 L1673.7,1054.1 L1676.1,1055.9 L1678.5,1057.7 L1680.8,1059.5 L1683.2,1061.4 L1685.6,1063.2 L1688.0,1065.0 L1690.4,1066.8 L1692.8,1068.6 L1695.2,1070.4 L1697.6,1072.2 L1700.0,1074.0 L1702.5,1075.7 L1704.9,1077.5 L1707.3,1079.3 L1709.7,1081.1 L1712.1,1082.8 L1714.6,1084.6 L1717.0,1086.4 L1719.4,1088.1 L1721.9,1089.9 L1724.3,1091.6 L1726.7,1093.4 L1729.2,1095.1 L1731.6,1096.8 L1734.1,1098.6 L1736.5,1100.3 L1739.0,1102.0 L1741.4,1103.7 L1743.9,1105.5 L1746.4,1107.2 L1748.8,1108.9 L1751.3,1110.6 L1753.8,1112.3 L1756.2,1114.0 L1758.7,1115.7 L1761.2,1117.4 L1763.7,1119.1 L1766.1,1120.8 L1768.6,1122.4 L1771.1,1124.1 L1773.6,1125.8 L1776.1,1127.5 L1778.6,1129.1 L1781.1,1130.8 L1783.6,1132.4 L1786.1,1134.1 L1788.6,1135.7 L1791.1,1137.4 L1793.6,1139.0 L1796.2,1140.6 L1798.7,1142.3 L1801.2,1143.9 L1803.7,1145.5 L1806.2,1147.1 L1808.8,1148.7 L1811.3,1150.3 L1813.9,1151.9 L1816.4,1153.5 L1818.9,1155.1 L1821.5,1156.7 L1824.0,1158.2 L1826.6,1159.8 L1829.1,1161.4 L1831.7,1162.9 L1834.3,1164.5 L1836.8,1166.0 L1839.4,1167.5 L1842.0,1169.1 L1844.6,1170.6 L1847.1,1172.1 L1849.7,1173.6 L1852.3,1175.2 L1854.9,1176.7 L1857.5,1178.2 L1860.1,1179.6 L1862.7,1181.1 L1865.3,1182.6 L1867.9,1184.1 L1870.5,1185.5 L1873.1,1187.0 L1875.8,1188.5 L1878.4,1189.9 L1881.0,1191.3 L1883.6,1192.8 L1886.3,1194.2 L1888.9,1195.6 L1891.5,1197.0 L1894.2,1198.4 L1896.8,1199.8 L1899.5,1201.2 L1902.2,1202.6 L1904.8,1204.0 L1907.5,1205.4 L1910.2,1206.7 L1912.8,1208.1 L1915.5,1209.4 L1918.2,1210.8 L1920.9,1212.1 L1923.6,1213.4 L1926.3,1214.7 L1928.9,1216.0 L1931.6,1217.3 L1934.4,1218.6 L1937.1,1219.9 L1939.8,1221.2 L1942.5,1222.5 L1945.2,1223.8 L1947.9,1225.0 L1950.6,1226.3 L1953.4,1227.5 L1956.1,1228.8 L1958.8,1230.0 L1961.6,1231.3 L1964.3,1232.5 L1967.1,1233.7 L1969.8,1234.9 L1972.5,1236.1 L1975.3,1237.3 L1978.1,1238.5 L1980.8,1239.7 L1983.6,1240.9 L1986.3,1242.1 L1989.1,1243.2 L1991.9,1244.4 L1994.6,1245.6 L1997.4,1246.7 L2000.2,1247.9 L2002.9,1249.0 L2005.7,1250.1 L2008.5,1251.3 L2011.3,1252.4 L2014.1,1253.5 L2016.9,1254.6 L2019.7,1255.7 L2022.4,1256.9 L2025.2,1258.0 L2028.0,1259.1 L2030.8,1260.1 L2033.6,1261.2 L2036.4,1262.3 L2039.2,1263.4 L2042.0,1264.5 L2044.8,1265.5 L2047.6,1266.6 L2050.4,1267.7 L2053.3,1268.7 L2056.1,1269.8 L2058.9,1270.8 L2061.7,1271.8 L2064.5,1272.9 L2067.3,1273.9 L2070.1,1274.9 L2073.0,1276.0 L2075.8,1277.0 L2078.6,1278.0 L2081.4,1279.0 L2084.2,1280.0 L2087.1,1281.0 L2089.9,1282.0 L2092.7,1283.0 L2095.5,1284.0 L2098.4,1285.0 L2101.2,1286.0 L2104.0,1287.0 L2106.9,1287.9 L2109.7,1288.9 L2112.5,1289.9 L2115.4,1290.8 L2118.2,1291.8 L2121.1,1292.7 L2123.9,1293.7 L2126.7,1294.6 L2129.6,1295.5 L2132.4,1296.5 L2135.3,1297.4 L2138.1,1298.3 L2141.0,1299.2 L2143.8,1300.2 L2146.7,1301.1 L2149.6,1302.0 L2152.4,1302.9 L2155.3,1303.8 L2158.1,1304.6 L2161.0,1305.5 L2163.9,1306.4 L2166.7,1307.3 L2169.6,1308.2 L2172.5,1309.0 L2175.3,1309.9 L2178.2,1310.7 L2181.1,1311.6 L2184.0,1312.4 L2186.8,1313.3 L2189.7,1314.1 L2192.6,1314.9 L2195.5,1315.8 L2198.4,1316.6 L2201.3,1317.4 L2204.2,1318.2 L2207.0,1319.0 L2209.9,1319.8 L2212.8,1320.6 L2215.7,1321.4 L2218.6,1322.2 L2221.5,1323.0 L2224.4,1323.7 L2227.3,1324.5 L2230.3,1325.2 L2233.2,1326.0 L2236.1,1326.7 L2239.0,1327.4 L2241.9,1328.1 L2244.8,1328.8 L2247.8,1329.5 L2250.7,1330.1 L2253.6,1330.7 L2256.6,1331.4 L2259.5,1332.0 L2262.4,1332.5 L2265.4,1333.1 L2268.3,1333.6 L2271.3,1334.1 L2274.2,1334.6 L2277.2,1335.1 L2280.1,1335.5 L2283.1,1335.9 L2286.1,1336.3 L2289.1,1336.7 L2292.0,1337.0 L2295.0,1337.3 L2298.0,1337.6 L2301.0,1337.8 L2304.0,1338.0 L2307.0,1338.2 L2310.0,1338.3 L2313.0,1338.4 L2316.0,1338.5"/>
<path class="cv" stroke="#ff0000" d="M475.4,1332.2 L476.6,1329.4 L477.8,1326.7 L479.0,1323.9 L480.2,1321.1 L481.3,1318.4 L482.5,1315.6 L483.6,1312.8 L484.7,1310.0 L485.7,1307.2 L486.8,1304.4 L487.9,1301.6 L488.9,1298.8 L489.9,1296.0 L490.9,1293.2 L491.9,1290.4 L492.9,1287.5 L493.8,1284.7 L494.7,1281.9 L495.7,1279.0 L496.6,1276.2 L497.5,1273.3 L498.4,1270.4 L499.2,1267.6 L500.1,1264.7 L500.9,1261.8 L501.7,1259.0 L502.5,1256.1 L503.3,1253.2 L504.1,1250.3 L504.9,1247.4 L505.7,1244.5 L506.4,1241.6 L507.1,1238.7 L507.9,1235.8 L508.6,1232.9 L509.3,1230.0 L510.0,1227.1 L510.6,1224.2 L511.3,1221.2 L512.0,1218.3 L512.6,1215.4 L513.3,1212.4 L513.9,1209.5 L514.5,1206.6 L515.1,1203.6 L515.7,1200.7 L516.3,1197.8 L516.9,1194.8 L517.4,1191.9 L518.0,1188.9 L518.6,1186.0 L519.1,1183.0 L519.7,1180.1 L520.2,1177.1 L520.7,1174.1 L521.2,1171.2 L521.7,1168.2 L522.2,1165.2 L522.7,1162.3 L523.2,1159.3 L523.7,1156.4 L524.2,1153.4 L524.7,1150.4 L525.1,1147.4 L525.6,1144.5 L526.1,1141.5 L526.5,1138.5 L527.0,1135.6 L527.4,1132.6 L527.9,1129.6 L528.3,1126.7 L528.7,1123.7 L529.1,1120.7 L529.6,1117.7 L530.0,1114.8 L530.4,1111.8 L530.8,1108.8 L531.2,1105.8 L531.6,1102.9 L532.0,1099.9 L532.4,1096.9 L532.8,1093.9 L533.2,1091.0 L533.6,1088.0 L534.0,1085.0 L534.4,1082.0 L534.7,1079.1 L535.1,1076.1 L535.5,1073.1 L535.8,1070.1 L536.2,1067.1 L536.6,1064.2 L536.9,1061.2 L537.3,1058.2 L537.6,1055.2 L538.0,1052.3 L538.3,1049.3 L538.7,1046.3 L539.0,1043.3 L539.4,1040.3 L539.7,1037.4 L540.1,1034.4 L540.4,1031.4 L540.7,1028.4 L541.1,1025.4 L541.4,1022.5 L541.7,1019.5 L542.1,1016.5 L542.4,1013.5 L542.7,1010.6 L543.0,1007.6 L543.4,1004.6 L543.7,1001.6 L544.0,998.6 L544.3,995.7 L544.6,992.7 L544.9,989.7 L545.3,986.7 L545.6,983.7 L545.9,980.8 L546.2,977.8 L546.5,974.8 L546.8,971.8 L547.2,968.8 L547.5,965.9 L547.8,962.9 L548.1,959.9 L548.4,956.9 L548.7,953.9 L549.0,951.0 L549.3,948.0 L549.7,945.0 L550.0,942.0 L550.3,939.0 L550.6,936.1 L550.9,933.1 L551.2,930.1 L551.5,927.1 L551.9,924.1 L552.2,921.2 L552.5,918.2 L552.8,915.2 L553.1,912.2 L553.4,909.3 L553.8,906.3 L554.1,903.3 L554.4,900.3 L554.7,897.3 L555.1,894.4 L555.4,891.4 L555.7,888.4 L556.1,885.4 L556.4,882.5 L556.7,879.5 L557.1,876.5 L557.4,873.5 L557.7,870.6 L558.1,867.6 L558.4,864.6 L558.8,861.6 L559.1,858.7 L559.5,855.7 L559.8,852.7 L560.2,849.7 L560.6,846.8 L560.9,843.8 L561.3,840.8 L561.7,837.9 L562.0,834.9 L562.4,831.9 L562.8,828.9 L563.2,826.0 L563.6,823.0 L563.9,820.0 L564.3,817.1 L564.7,814.1 L565.1,811.1 L565.5,808.2 L565.9,805.2 L566.3,802.2 L566.7,799.3 L567.2,796.3 L567.6,793.3 L568.0,790.4 L568.4,787.4 L568.9,784.4 L569.3,781.5 L569.8,778.5 L570.2,775.5 L570.6,772.6 L571.1,769.6 L571.6,766.6 L572.0,763.7 L572.5,760.7 L573.0,757.8 L573.4,754.8 L573.9,751.8 L574.4,748.9 L574.9,745.9 L575.4,743.0 L575.9,740.0 L576.4,737.1 L576.9,734.1 L577.5,731.1 L578.0,728.2 L578.5,725.2 L579.1,722.3 L579.6,719.3 L580.1,716.4 L580.7,713.4 L581.3,710.5 L581.8,707.5 L582.4,704.6 L583.0,701.6 L583.6,698.7 L584.2,695.7 L584.8,692.8 L585.4,689.8 L586.0,686.9 L586.6,683.9 L587.2,681.0 L587.9,678.1 L588.5,675.1 L589.1,672.2 L589.8,669.2 L590.5,666.3 L591.1,663.3 L591.8,660.4 L592.5,657.5 L593.2,654.5 L593.9,651.6 L594.6,648.7 L595.3,645.7 L596.0,642.8 L596.8,639.9 L597.5,637.0 L598.3,634.1 L599.1,631.2 L599.9,628.3 L600.8,625.4 L601.6,622.5 L602.5,619.6 L603.4,616.8 L604.4,613.9 L605.3,611.1 L606.3,608.3 L607.3,605.4 L608.4,602.6 L609.4,599.9 L610.5,597.1 L611.7,594.3 L612.9,591.6 L614.1,588.9 L615.3,586.2 L616.6,583.5 L617.9,580.9 L619.3,578.2 L620.7,575.6 L622.2,573.0 L623.7,570.4 L625.2,567.9 L626.8,565.3 L628.5,562.8 L630.1,560.4 L631.9,557.9 L633.6,555.5 L635.5,553.1 L637.3,550.8 L639.2,548.4 L641.2,546.2 L643.1,543.9 L645.2,541.7 L647.2,539.5 L649.3,537.4 L651.5,535.3 L653.7,533.3 L655.9,531.3 L658.2,529.3 L660.5,527.4 L662.8,525.5 L665.2,523.7 L667.7,522.0 L670.1,520.3 L672.6,518.6 L675.2,517.0 L677.7,515.5 L680.4,514.0 L683.0,512.6 L685.7,511.2 L688.4,509.9 L691.2,508.6 L693.9,507.5 L696.8,506.3 L699.6,505.3 L702.5,504.3 L705.3,503.4 L708.2,502.5 L711.2,501.7 L714.1,501.0 L717.1,500.3 L720.1,499.8 L723.0,499.2 L726.0,498.8 L729.0,498.4 L732.0,498.1 L735.1,497.9 L738.1,497.7 L741.1,497.6 L744.1,497.6 L747.1,497.7 L750.1,497.8 L753.1,498.0 L756.1,498.3 L759.1,498.6 L762.0,499.0 L765.0,499.5 L768.0,500.1 L770.9,500.7 L773.8,501.4 L776.7,502.1 L779.6,502.9 L782.5,503.8 L785.3,504.7 L788.2,505.7 L791.0,506.7 L793.8,507.8 L796.5,509.0 L799.3,510.2 L802.0,511.5 L804.6,512.8 L807.3,514.2 L809.9,515.6 L812.5,517.1 L815.1,518.6 L817.6,520.1 L820.1,521.8 L822.6,523.4 L825.0,525.1 L827.4,526.8 L829.7,528.6 L832.0,530.4 L834.3,532.3 L836.6,534.2 L838.8,536.2 L841.0,538.1 L843.2,540.1 L845.3,542.2 L847.4,544.3 L849.5,546.4 L851.5,548.5 L853.5,550.7 L855.5,552.9 L857.5,555.2 L859.4,557.5 L861.3,559.8 L863.2,562.1 L865.1,564.4 L866.9,566.8 L868.7,569.2 L870.5,571.6 L872.2,574.1 L874.0,576.6 L875.7,579.1 L877.4,581.6 L879.1,584.1 L880.7,586.7 L882.3,589.2 L884.0,591.8 L885.5,594.4 L887.1,597.0 L888.7,599.6 L890.2,602.3 L891.7,604.9 L893.2,607.6 L894.7,610.3 L896.2,612.9 L897.6,615.6 L899.1,618.3 L900.5,621.0 L901.9,623.7 L903.3,626.4 L904.7,629.1 L906.0,631.9 L907.4,634.6 L908.7,637.3 L910.1,640.0 L911.4,642.7 L912.7,645.4 L914.0,648.2 L915.3,650.9 L916.6,653.6 L917.9,656.3 L919.1,658.9 L920.4,661.6 L921.7,664.3 L922.9,667.0 L924.2,669.7 L925.5,672.3 L926.8,675.0 L928.0,677.6 L929.3,680.3 L930.6,682.9 L931.9,685.6 L933.3,688.2 L934.6,690.8 L936.0,693.4 L937.4,696.0 L938.8,698.6 L940.2,701.2 L941.6,703.8 L943.1,706.4 L944.6,709.0 L946.1,711.5 L947.7,714.1 L949.3,716.6 L950.9,719.1 L952.6,721.7 L954.3,724.2 L956.0,726.7 L957.8,729.2 L959.6,731.6 L961.5,734.0 L963.4,736.4 L965.3,738.7 L967.3,741.1 L969.4,743.3 L971.5,745.5 L973.6,747.7 L975.8,749.8 L978.1,751.8 L980.4,753.8 L982.7,755.7 L985.1,757.5 L987.6,759.2 L990.1,760.9 L992.7,762.5 L995.3,764.0 L998.0,765.4 L1000.7,766.7 L1003.5,767.9 L1006.3,769.0 L1009.2,770.0 L1012.0,770.9 L1014.9,771.6 L1017.8,772.3 L1020.8,772.9 L1023.7,773.3 L1026.6,773.6 L1029.5,773.8 L1032.5,773.8 L1035.4,773.7 L1038.3,773.5 L1041.1,773.2 L1044.0,772.7 L1046.8,772.0 L1049.6,771.2 L1052.3,770.3 L1055.0,769.3 L1057.7,768.1 L1060.4,766.8 L1063.0,765.5 L1065.6,764.0 L1068.2,762.4 L1070.7,760.8 L1073.3,759.1 L1075.7,757.3 L1078.2,755.5 L1080.6,753.6 L1083.0,751.7 L1085.4,749.7 L1087.8,747.8 L1090.1,745.8 L1092.4,743.8 L1094.7,741.8 L1097.0,739.8 L1099.2,737.7 L1101.4,735.7 L1103.7,733.7 L1105.8,731.7 L1108.0,729.7 L1110.2,727.6 L1112.4,725.6 L1114.5,723.6 L1116.6,721.5 L1118.8,719.5 L1120.9,717.4 L1123.0,715.4 L1125.2,713.4 L1127.3,711.3 L1129.5,709.3 L1131.6,707.2 L1133.7,705.2 L1135.9,703.1 L1138.1,701.1 L1140.3,699.0 L1142.4,697.0 L1144.7,694.9 L1146.9,692.8 L1149.1,690.8 L1151.4,688.7 L1153.7,686.7 L1156.0,684.6 L1158.3,682.6 L1160.6,680.6 L1163.0,678.6 L1165.4,676.6 L1167.8,674.6 L1170.2,672.7 L1172.7,670.8 L1175.2,669.0 L1177.7,667.2 L1180.2,665.4 L1182.7,663.7 L1185.3,662.1 L1187.9,660.5 L1190.5,659.0 L1193.1,657.5 L1195.8,656.1 L1198.5,654.9 L1201.2,653.6 L1203.9,652.5 L1206.6,651.5 L1209.4,650.5 L1212.2,649.7 L1215.0,649.0 L1217.8,648.3 L1220.7,647.8 L1223.6,647.4 L1226.5,647.1 L1229.4,646.9 L1232.3,646.9 L1235.2,646.9 L1238.2,647.0 L1241.1,647.2 L1244.1,647.5 L1247.0,648.0 L1250.0,648.5 L1252.9,649.0 L1255.8,649.7 L1258.7,650.5 L1261.6,651.3 L1264.5,652.2 L1267.3,653.2 L1270.1,654.3 L1272.9,655.4 L1275.6,656.6 L1278.3,657.9 L1281.0,659.2 L1283.6,660.6 L1286.3,662.1 L1288.8,663.6 L1291.4,665.2 L1293.9,666.8 L1296.4,668.4 L1298.8,670.1 L1301.3,671.9 L1303.7,673.7 L1306.1,675.5 L1308.5,677.3 L1310.8,679.2 L1313.2,681.1 L1315.5,683.1 L1317.8,685.0 L1320.1,687.0 L1322.3,689.0 L1324.6,691.0 L1326.9,693.1 L1329.1,695.1 L1331.3,697.2 L1333.6,699.2 L1335.8,701.3 L1338.0,703.3 L1340.2,705.4 L1342.4,707.4 L1344.6,709.5 L1346.8,711.6 L1349.0,713.7 L1351.2,715.7 L1353.4,717.8 L1355.5,719.9 L1357.7,722.0 L1359.9,724.1 L1362.0,726.2 L1364.2,728.3 L1366.3,730.4 L1368.4,732.5 L1370.6,734.6 L1372.7,736.7 L1374.8,738.9 L1376.9,741.0 L1379.0,743.1 L1381.2,745.2 L1383.3,747.4 L1385.4,749.5 L1387.5,751.6 L1389.6,753.8 L1391.6,755.9 L1393.7,758.1 L1395.8,760.2 L1397.9,762.4 L1399.9,764.5 L1402.0,766.7 L1404.1,768.9 L1406.1,771.0 L1408.2,773.2 L1410.3,775.4 L1412.3,777.5 L1414.4,779.7 L1416.4,781.9 L1418.4,784.1 L1420.5,786.2 L1422.5,788.4 L1424.6,790.6 L1426.6,792.8 L1428.6,795.0 L1430.6,797.2 L1432.7,799.4 L1434.7,801.6 L1436.7,803.8 L1438.7,806.0 L1440.7,808.2 L1442.7,810.4 L1444.8,812.6 L1446.8,814.8 L1448.8,817.0 L1450.8,819.2 L1452.8,821.5 L1454.8,823.7 L1456.8,825.9 L1458.8,828.1 L1460.8,830.3 L1462.8,832.6 L1464.8,834.8 L1466.8,837.0 L1468.8,839.3 L1470.8,841.5 L1472.8,843.7 L1474.8,845.9 L1476.8,848.2 L1478.8,850.4 L1480.8,852.7 L1482.8,854.9 L1484.8,857.1 L1486.7,859.4 L1488.7,861.6 L1490.7,863.9 L1492.7,866.1 L1494.7,868.3 L1496.7,870.6 L1498.7,872.8 L1500.7,875.1 L1502.7,877.3 L1504.7,879.6 L1506.7,881.8 L1508.7,884.1 L1510.7,886.3 L1512.7,888.6 L1514.6,890.8 L1516.6,893.1 L1518.6,895.3 L1520.6,897.6 L1522.6,899.8 L1524.6,902.1 L1526.6,904.3 L1528.6,906.6 L1530.6,908.8 L1532.6,911.1 L1534.6,913.3 L1536.6,915.6 L1538.6,917.8 L1540.6,920.1 L1542.6,922.3 L1544.6,924.5 L1546.6,926.8 L1548.6,929.0 L1550.6,931.3 L1552.6,933.5 L1554.6,935.8 L1556.6,938.0 L1558.6,940.3 L1560.6,942.5 L1562.6,944.7 L1564.6,947.0 L1566.6,949.2 L1568.6,951.4 L1570.7,953.7 L1572.7,955.9 L1574.7,958.1 L1576.7,960.4 L1578.7,962.6 L1580.7,964.8 L1582.7,967.0 L1584.8,969.3 L1586.8,971.5 L1588.8,973.7 L1590.8,975.9 L1592.8,978.1 L1594.9,980.4 L1596.9,982.6 L1598.9,984.8 L1600.9,987.0 L1603.0,989.2 L1605.0,991.4 L1607.0,993.6 L1609.1,995.8 L1611.1,998.0 L1613.1,1000.2 L1615.2,1002.4 L1617.2,1004.6 L1619.3,1006.8 L1621.3,1008.9 L1623.4,1011.1 L1625.4,1013.3 L1627.5,1015.5 L1629.5,1017.6 L1631.6,1019.8 L1633.6,1022.0 L1635.7,1024.2 L1637.7,1026.3 L1639.8,1028.5 L1641.8,1030.6 L1643.9,1032.8 L1646.0,1035.0 L1648.0,1037.1 L1650.1,1039.3 L1652.2,1041.4 L1654.2,1043.6 L1656.3,1045.7 L1658.4,1047.9 L1660.5,1050.0 L1662.5,1052.2 L1664.6,1054.3 L1666.7,1056.4 L1668.8,1058.6 L1670.9,1060.7 L1673.0,1062.8 L1675.0,1065.0 L1677.1,1067.1 L1679.2,1069.2 L1681.3,1071.4 L1683.4,1073.5 L1685.5,1075.6 L1687.6,1077.7 L1689.7,1079.9 L1691.8,1082.0 L1693.9,1084.1 L1696.0,1086.2 L1698.1,1088.3 L1700.2,1090.5 L1702.3,1092.6 L1704.4,1094.7 L1706.6,1096.8 L1708.7,1098.9 L1710.8,1101.0 L1712.9,1103.1 L1715.0,1105.3 L1717.1,1107.4 L1719.3,1109.5 L1721.4,1111.6 L1723.5,1113.7 L1725.6,1115.8 L1727.8,1117.9 L1729.9,1120.0 L1732.0,1122.1 L1734.2,1124.2 L1736.3,1126.3 L1738.5,1128.4 L1740.6,1130.6 L1742.7,1132.7 L1744.9,1134.8 L1747.0,1136.9 L1749.2,1139.0 L1751.3,1141.1 L1753.5,1143.2 L1755.6,1145.3 L1757.8,1147.4 L1760.0,1149.5 L1762.1,1151.6 L1764.3,1153.7 L1766.4,1155.8 L1768.6,1157.9 L1770.8,1160.0 L1772.9,1162.1 L1775.1,1164.2 L1777.3,1166.3 L1779.5,1168.4 L1781.6,1170.5 L1783.8,1172.6 L1786.0,1174.7 L1788.2,1176.8 L1790.4,1178.9 L1792.6,1180.9 L1794.8,1183.0 L1797.0,1185.1 L1799.2,1187.1 L1801.4,1189.2 L1803.7,1191.2 L1805.9,1193.3 L1808.1,1195.3 L1810.4,1197.3 L1812.6,1199.3 L1814.9,1201.3 L1817.1,1203.3 L1819.4,1205.3 L1821.7,1207.3 L1823.9,1209.3 L1826.2,1211.2 L1828.5,1213.2 L1830.8,1215.1 L1833.1,1217.0 L1835.4,1218.9 L1837.7,1220.8 L1840.1,1222.7 L1842.4,1224.6 L1844.7,1226.5 L1847.1,1228.3 L1849.5,1230.1 L1851.8,1231.9 L1854.2,1233.7 L1856.6,1235.5 L1859.0,1237.3 L1861.4,1239.1 L1863.8,1240.8 L1866.3,1242.5 L1868.7,1244.2 L1871.1,1245.9 L1873.6,1247.6 L1876.1,1249.2 L1878.6,1250.8 L1881.1,1252.4 L1883.6,1254.0 L1886.1,1255.6 L1888.6,1257.1 L1891.1,1258.7 L1893.7,1260.2 L1896.3,1261.6 L1898.8,1263.1 L1901.4,1264.5 L1904.0,1266.0 L1906.6,1267.3 L1909.3,1268.7 L1911.9,1270.1 L1914.6,1271.4 L1917.2,1272.7 L1919.9,1273.9 L1922.6,1275.2 L1925.3,1276.4 L1928.0,1277.6 L1930.8,1278.8 L1933.5,1280.0 L1936.2,1281.1 L1939.0,1282.2 L1941.8,1283.3 L1944.6,1284.4 L1947.3,1285.5 L1950.1,1286.5 L1953.0,1287.5 L1955.8,1288.5 L1958.6,1289.5 L1961.4,1290.5 L1964.3,1291.4 L1967.1,1292.4 L1970.0,1293.3 L1972.9,1294.2 L1975.7,1295.1 L1978.6,1296.0 L1981.5,1296.8 L1984.4,1297.7 L1987.3,1298.5 L1990.2,1299.3 L1993.1,1300.1 L1996.0,1300.9 L1999.0,1301.7 L2001.9,1302.5 L2004.8,1303.3 L2007.7,1304.0 L2010.7,1304.7 L2013.6,1305.5 L2016.6,1306.2 L2019.5,1306.9 L2022.5,1307.6 L2025.4,1308.3 L2028.4,1309.0 L2031.3,1309.6 L2034.3,1310.3 L2037.2,1311.0 L2040.2,1311.6 L2043.2,1312.3 L2046.1,1312.9 L2049.1,1313.6 L2052.0,1314.2 L2055.0,1314.8 L2058.0,1315.5 L2060.9,1316.1 L2063.9,1316.7 L2066.8,1317.3 L2069.8,1317.9 L2072.7,1318.5 L2075.7,1319.1 L2078.6,1319.7 L2081.6,1320.3 L2084.5,1320.9 L2087.5,1321.5 L2090.4,1322.1 L2093.4,1322.7 L2096.3,1323.2 L2099.2,1323.8 L2102.2,1324.4 L2105.1,1325.0 L2108.1,1325.5 L2111.0,1326.1 L2114.0,1326.6 L2116.9,1327.2 L2119.8,1327.7 L2122.8,1328.3 L2125.7,1328.8 L2128.7,1329.3 L2131.6,1329.9 L2134.5,1330.4 L2137.5,1330.9 L2140.4,1331.4 L2143.4,1331.9 L2146.3,1332.4 L2149.2,1332.9 L2152.2,1333.4 L2155.1,1333.9 L2158.1,1334.4 L2161.0,1334.9 L2163.9,1335.3 L2166.9,1335.8 L2169.8,1336.3 L2172.8,1336.7 L2175.7,1337.2 L2178.7,1337.6 L2181.6,1338.1 L2184.6,1338.5 L2187.5,1339.0 L2190.5,1339.4 L2193.4,1339.8 L2196.4,1340.2 L2199.3,1340.7 L2202.3,1341.1 L2205.2,1341.5 L2208.2,1341.9 L2211.1,1342.3 L2214.1,1342.6 L2217.1,1343.0 L2220.0,1343.4 L2223.0,1343.8 L2226.0,1344.1 L2228.9,1344.5 L2231.9,1344.8 L2234.9,1345.2 L2237.8,1345.5 L2240.8,1345.9 L2243.8,1346.2 L2246.8,1346.5 L2249.7,1346.8 L2252.7,1347.1 L2255.7,1347.4 L2258.7,1347.7 L2261.7,1348.0 L2264.7,1348.3 L2267.7,1348.6 L2270.7,1348.9 L2273.7,1349.1 L2276.7,1349.4 L2279.7,1349.7 L2282.7,1349.9 L2285.7,1350.1 L2288.7,1350.4 L2291.7,1350.6 L2294.7,1350.8 L2297.8,1351.0 L2300.8,1351.2 L2303.8,1351.4 L2306.8,1351.6 L2309.9,1351.8 L2312.9,1352.0 L2315.9,1352.2 L2319.0,1352.3"/>
<path class="cv" stroke="#000000" d="M474.2,1327.9 L475.3,1325.1 L476.4,1322.3 L477.5,1319.5 L478.5,1316.7 L479.6,1313.8 L480.6,1311.0 L481.7,1308.2 L482.7,1305.3 L483.7,1302.5 L484.7,1299.7 L485.6,1296.8 L486.6,1294.0 L487.6,1291.1 L488.5,1288.3 L489.4,1285.4 L490.4,1282.6 L491.3,1279.7 L492.2,1276.9 L493.0,1274.0 L493.9,1271.1 L494.8,1268.3 L495.6,1265.4 L496.4,1262.5 L497.3,1259.6 L498.1,1256.7 L498.9,1253.9 L499.7,1251.0 L500.5,1248.1 L501.2,1245.2 L502.0,1242.3 L502.8,1239.4 L503.5,1236.5 L504.2,1233.6 L505.0,1230.7 L505.7,1227.8 L506.4,1224.9 L507.1,1221.9 L507.8,1219.0 L508.4,1216.1 L509.1,1213.2 L509.8,1210.3 L510.4,1207.3 L511.0,1204.4 L511.7,1201.5 L512.3,1198.6 L512.9,1195.6 L513.5,1192.7 L514.1,1189.8 L514.7,1186.8 L515.3,1183.9 L515.9,1180.9 L516.4,1178.0 L517.0,1175.1 L517.6,1172.1 L518.1,1169.2 L518.7,1166.2 L519.2,1163.3 L519.7,1160.3 L520.2,1157.4 L520.7,1154.4 L521.3,1151.4 L521.8,1148.5 L522.3,1145.5 L522.7,1142.6 L523.2,1139.6 L523.7,1136.6 L524.2,1133.7 L524.6,1130.7 L525.1,1127.7 L525.6,1124.8 L526.0,1121.8 L526.5,1118.8 L526.9,1115.9 L527.4,1112.9 L527.8,1109.9 L528.2,1107.0 L528.6,1104.0 L529.1,1101.0 L529.5,1098.0 L529.9,1095.1 L530.3,1092.1 L530.7,1089.1 L531.1,1086.1 L531.5,1083.1 L531.9,1080.2 L532.3,1077.2 L532.7,1074.2 L533.1,1071.2 L533.5,1068.2 L533.8,1065.3 L534.2,1062.3 L534.6,1059.3 L535.0,1056.3 L535.3,1053.3 L535.7,1050.4 L536.1,1047.4 L536.4,1044.4 L536.8,1041.4 L537.2,1038.4 L537.5,1035.5 L537.9,1032.5 L538.3,1029.5 L538.6,1026.5 L539.0,1023.5 L539.3,1020.6 L539.7,1017.6 L540.0,1014.6 L540.4,1011.6 L540.7,1008.6 L541.1,1005.6 L541.4,1002.7 L541.8,999.7 L542.1,996.7 L542.5,993.7 L542.8,990.7 L543.2,987.8 L543.5,984.8 L543.9,981.8 L544.2,978.8 L544.6,975.8 L544.9,972.9 L545.2,969.9 L545.6,966.9 L545.9,963.9 L546.3,960.9 L546.6,958.0 L546.9,955.0 L547.3,952.0 L547.6,949.0 L547.9,946.1 L548.3,943.1 L548.6,940.1 L548.9,937.1 L549.3,934.1 L549.6,931.2 L549.9,928.2 L550.3,925.2 L550.6,922.2 L550.9,919.2 L551.3,916.3 L551.6,913.3 L551.9,910.3 L552.3,907.3 L552.6,904.3 L552.9,901.4 L553.2,898.4 L553.6,895.4 L553.9,892.4 L554.2,889.5 L554.6,886.5 L554.9,883.5 L555.2,880.5 L555.5,877.5 L555.9,874.6 L556.2,871.6 L556.5,868.6 L556.9,865.6 L557.2,862.7 L557.5,859.7 L557.8,856.7 L558.2,853.7 L558.5,850.7 L558.8,847.8 L559.2,844.8 L559.5,841.8 L559.8,838.8 L560.1,835.9 L560.5,832.9 L560.8,829.9 L561.1,826.9 L561.5,824.0 L561.8,821.0 L562.1,818.0 L562.5,815.0 L562.8,812.0 L563.1,809.1 L563.5,806.1 L563.8,803.1 L564.1,800.1 L564.5,797.2 L564.8,794.2 L565.2,791.2 L565.5,788.2 L565.8,785.3 L566.2,782.3 L566.5,779.3 L566.9,776.3 L567.2,773.3 L567.5,770.4 L567.9,767.4 L568.2,764.4 L568.6,761.4 L568.9,758.5 L569.3,755.5 L569.6,752.5 L570.0,749.5 L570.3,746.6 L570.7,743.6 L571.0,740.6 L571.4,737.6 L571.7,734.7 L572.1,731.7 L572.4,728.7 L572.8,725.7 L573.2,722.7 L573.5,719.8 L573.9,716.8 L574.2,713.8 L574.6,710.8 L575.0,707.9 L575.3,704.9 L575.7,701.9 L576.1,698.9 L576.4,696.0 L576.8,693.0 L577.2,690.0 L577.6,687.0 L577.9,684.1 L578.3,681.1 L578.7,678.1 L579.1,675.1 L579.5,672.2 L579.9,669.2 L580.2,666.2 L580.6,663.2 L581.0,660.2 L581.4,657.3 L581.8,654.3 L582.2,651.3 L582.6,648.3 L583.0,645.4 L583.4,642.4 L583.8,639.4 L584.2,636.4 L584.6,633.5 L585.0,630.5 L585.4,627.5 L585.8,624.5 L586.3,621.6 L586.7,618.6 L587.1,615.6 L587.5,612.6 L587.9,609.7 L588.4,606.7 L588.8,603.7 L589.2,600.7 L589.6,597.7 L590.1,594.8 L590.5,591.8 L590.9,588.8 L591.4,585.8 L591.8,582.9 L592.3,579.9 L592.7,576.9 L593.2,573.9 L593.6,571.0 L594.1,568.0 L594.5,565.0 L595.0,562.0 L595.4,559.1 L595.9,556.1 L596.4,553.1 L596.8,550.1 L597.3,547.2 L597.8,544.2 L598.3,541.2 L598.8,538.2 L599.2,535.2 L599.7,532.3 L600.2,529.3 L600.7,526.3 L601.2,523.4 L601.7,520.4 L602.3,517.4 L602.8,514.5 L603.3,511.5 L603.9,508.5 L604.5,505.6 L605.0,502.6 L605.6,499.7 L606.2,496.7 L606.8,493.8 L607.4,490.9 L608.1,487.9 L608.7,485.0 L609.4,482.1 L610.1,479.2 L610.8,476.3 L611.5,473.4 L612.2,470.5 L613.0,467.6 L613.8,464.7 L614.6,461.8 L615.4,459.0 L616.2,456.1 L617.1,453.2 L617.9,450.4 L618.8,447.6 L619.8,444.7 L620.7,441.9 L621.7,439.1 L622.7,436.3 L623.7,433.5 L624.8,430.7 L625.8,428.0 L627.0,425.2 L628.1,422.5 L629.3,419.7 L630.5,417.0 L631.7,414.3 L632.9,411.6 L634.2,408.9 L635.5,406.2 L636.9,403.5 L638.3,400.9 L639.7,398.2 L641.2,395.6 L642.6,393.0 L644.2,390.4 L645.7,387.8 L647.3,385.3 L649.0,382.7 L650.7,380.2 L652.4,377.7 L654.1,375.3 L655.9,372.8 L657.8,370.5 L659.7,368.1 L661.6,365.8 L663.5,363.5 L665.6,361.3 L667.6,359.1 L669.7,356.9 L671.9,354.8 L674.0,352.8 L676.3,350.8 L678.6,348.9 L680.9,347.0 L683.3,345.2 L685.7,343.4 L688.2,341.8 L690.7,340.1 L693.3,338.6 L696.0,337.1 L698.6,335.7 L701.4,334.4 L704.1,333.1 L706.9,332.0 L709.7,330.9 L712.6,329.9 L715.5,329.0 L718.4,328.2 L721.3,327.5 L724.2,326.9 L727.2,326.4 L730.1,326.0 L733.1,325.7 L736.1,325.5 L739.1,325.5 L742.1,325.5 L745.0,325.7 L748.0,326.0 L751.0,326.4 L753.9,326.8 L756.9,327.4 L759.8,328.1 L762.7,328.9 L765.6,329.8 L768.4,330.8 L771.3,331.8 L774.1,333.0 L776.8,334.2 L779.6,335.5 L782.3,336.9 L784.9,338.4 L787.5,340.0 L790.1,341.6 L792.6,343.3 L795.0,345.1 L797.4,346.9 L799.8,348.8 L802.0,350.7 L804.2,352.7 L806.4,354.8 L808.5,356.9 L810.5,359.1 L812.5,361.3 L814.4,363.6 L816.3,365.9 L818.1,368.2 L819.9,370.6 L821.6,373.1 L823.3,375.5 L825.0,378.0 L826.6,380.6 L828.1,383.1 L829.6,385.7 L831.1,388.3 L832.6,391.0 L834.0,393.7 L835.4,396.3 L836.7,399.0 L838.1,401.8 L839.4,404.5 L840.6,407.2 L841.9,410.0 L843.1,412.7 L844.4,415.5 L845.6,418.3 L846.7,421.0 L847.9,423.8 L849.1,426.6 L850.2,429.4 L851.4,432.1 L852.5,434.9 L853.6,437.7 L854.7,440.4 L855.8,443.2 L856.8,446.0 L857.9,448.8 L859.0,451.6 L860.0,454.4 L861.0,457.2 L862.1,460.0 L863.1,462.7 L864.1,465.6 L865.1,468.4 L866.1,471.2 L867.1,474.0 L868.1,476.8 L869.1,479.6 L870.0,482.5 L871.0,485.3 L871.9,488.2 L872.9,491.0 L873.8,493.9 L874.8,496.7 L875.7,499.6 L876.7,502.4 L877.6,505.3 L878.5,508.2 L879.4,511.0 L880.3,513.9 L881.2,516.8 L882.1,519.7 L883.0,522.5 L883.9,525.4 L884.8,528.3 L885.7,531.2 L886.6,534.1 L887.4,537.0 L888.3,539.9 L889.2,542.8 L890.0,545.7 L890.9,548.5 L891.7,551.4 L892.6,554.3 L893.4,557.2 L894.3,560.1 L895.1,563.0 L896.0,565.9 L896.8,568.8 L897.6,571.7 L898.5,574.6 L899.3,577.5 L900.1,580.4 L900.9,583.2 L901.7,586.1 L902.5,589.0 L903.4,591.9 L904.2,594.8 L905.0,597.6 L905.8,600.5 L906.6,603.4 L907.4,606.2 L908.2,609.1 L909.0,612.0 L909.8,614.8 L910.6,617.7 L911.4,620.5 L912.2,623.3 L913.0,626.2 L913.8,629.0 L914.7,631.9 L915.5,634.7 L916.4,637.5 L917.3,640.3 L918.2,643.1 L919.2,645.9 L920.2,648.7 L921.2,651.5 L922.2,654.3 L923.3,657.1 L924.4,659.9 L925.5,662.7 L926.7,665.4 L927.9,668.2 L929.1,671.0 L930.4,673.7 L931.8,676.5 L933.2,679.2 L934.7,681.9 L936.2,684.6 L937.7,687.3 L939.3,690.0 L941.0,692.6 L942.7,695.1 L944.5,697.7 L946.3,700.2 L948.1,702.6 L950.1,705.0 L952.1,707.3 L954.1,709.5 L956.2,711.7 L958.4,713.8 L960.6,715.8 L962.9,717.7 L965.2,719.6 L967.6,721.3 L970.1,723.0 L972.6,724.5 L975.2,725.9 L977.8,727.2 L980.5,728.4 L983.3,729.4 L986.1,730.4 L989.0,731.1 L991.9,731.8 L994.9,732.3 L997.8,732.6 L1000.8,732.8 L1003.7,732.9 L1006.7,732.7 L1009.6,732.5 L1012.5,732.0 L1015.3,731.3 L1018.1,730.5 L1020.9,729.5 L1023.6,728.3 L1026.2,727.0 L1028.8,725.6 L1031.4,724.1 L1033.9,722.6 L1036.3,720.9 L1038.7,719.3 L1041.1,717.5 L1043.5,715.7 L1045.8,713.9 L1048.1,712.0 L1050.3,710.1 L1052.6,708.1 L1054.8,706.0 L1056.9,704.0 L1059.1,701.9 L1061.2,699.7 L1063.3,697.6 L1065.4,695.4 L1067.4,693.1 L1069.5,690.9 L1071.5,688.6 L1073.5,686.3 L1075.5,684.0 L1077.5,681.7 L1079.5,679.4 L1081.4,677.0 L1083.4,674.7 L1085.4,672.3 L1087.3,670.0 L1089.3,667.6 L1091.2,665.3 L1093.2,662.9 L1095.1,660.6 L1097.1,658.3 L1099.1,656.0 L1101.1,653.7 L1103.0,651.4 L1105.0,649.1 L1107.0,646.9 L1109.1,644.7 L1111.1,642.5 L1113.1,640.3 L1115.2,638.1 L1117.2,636.0 L1119.3,633.8 L1121.4,631.7 L1123.5,629.6 L1125.6,627.5 L1127.7,625.4 L1129.8,623.3 L1131.9,621.3 L1134.0,619.2 L1136.2,617.2 L1138.3,615.1 L1140.5,613.1 L1142.6,611.0 L1144.8,609.0 L1147.0,607.0 L1149.2,605.0 L1151.4,602.9 L1153.6,600.9 L1155.8,598.9 L1158.1,596.9 L1160.4,595.0 L1162.6,593.1 L1165.0,591.2 L1167.3,589.4 L1169.7,587.6 L1172.1,585.9 L1174.6,584.3 L1177.1,582.8 L1179.7,581.4 L1182.3,580.0 L1185.0,578.8 L1187.8,577.7 L1190.6,576.7 L1193.5,575.8 L1196.4,575.1 L1199.4,574.5 L1202.4,573.9 L1205.5,573.5 L1208.5,573.2 L1211.6,573.1 L1214.7,573.0 L1217.8,573.0 L1220.9,573.2 L1224.0,573.4 L1227.1,573.8 L1230.1,574.2 L1233.2,574.7 L1236.1,575.4 L1239.1,576.1 L1242.0,576.9 L1244.8,577.8 L1247.6,578.8 L1250.4,579.9 L1253.1,581.1 L1255.7,582.3 L1258.4,583.6 L1261.0,585.0 L1263.5,586.5 L1266.0,588.0 L1268.5,589.6 L1270.9,591.2 L1273.3,592.9 L1275.7,594.7 L1278.0,596.5 L1280.3,598.3 L1282.6,600.3 L1284.9,602.2 L1287.1,604.2 L1289.3,606.3 L1291.4,608.3 L1293.6,610.4 L1295.7,612.6 L1297.8,614.8 L1299.9,617.0 L1301.9,619.2 L1303.9,621.4 L1306.0,623.7 L1308.0,626.0 L1309.9,628.3 L1311.9,630.6 L1313.9,632.9 L1315.8,635.2 L1317.8,637.5 L1319.7,639.8 L1321.6,642.2 L1323.5,644.5 L1325.4,646.9 L1327.2,649.2 L1329.1,651.6 L1331.0,653.9 L1332.8,656.3 L1334.7,658.7 L1336.5,661.1 L1338.3,663.4 L1340.1,665.8 L1341.9,668.2 L1343.7,670.6 L1345.5,673.0 L1347.3,675.4 L1349.1,677.8 L1350.9,680.2 L1352.7,682.6 L1354.4,685.0 L1356.2,687.4 L1358.0,689.9 L1359.7,692.3 L1361.5,694.7 L1363.3,697.1 L1365.0,699.5 L1366.8,702.0 L1368.5,704.4 L1370.3,706.8 L1372.0,709.3 L1373.8,711.7 L1375.5,714.1 L1377.2,716.6 L1379.0,719.0 L1380.7,721.4 L1382.5,723.9 L1384.2,726.3 L1386.0,728.7 L1387.7,731.2 L1389.5,733.6 L1391.2,736.0 L1393.0,738.5 L1394.7,740.9 L1396.5,743.3 L1398.2,745.8 L1400.0,748.2 L1401.7,750.6 L1403.5,753.1 L1405.2,755.5 L1407.0,757.9 L1408.7,760.4 L1410.5,762.8 L1412.2,765.2 L1414.0,767.7 L1415.7,770.1 L1417.5,772.5 L1419.3,775.0 L1421.0,777.4 L1422.8,779.8 L1424.6,782.2 L1426.3,784.7 L1428.1,787.1 L1429.9,789.5 L1431.6,791.9 L1433.4,794.4 L1435.2,796.8 L1437.0,799.2 L1438.8,801.6 L1440.5,804.0 L1442.3,806.4 L1444.1,808.8 L1445.9,811.3 L1447.7,813.7 L1449.5,816.1 L1451.3,818.5 L1453.1,820.9 L1454.9,823.3 L1456.7,825.7 L1458.5,828.1 L1460.3,830.4 L1462.1,832.8 L1464.0,835.2 L1465.8,837.6 L1467.6,840.0 L1469.5,842.3 L1471.3,844.7 L1473.1,847.1 L1475.0,849.5 L1476.8,851.8 L1478.7,854.2 L1480.5,856.5 L1482.4,858.9 L1484.2,861.2 L1486.1,863.6 L1488.0,865.9 L1489.8,868.3 L1491.7,870.6 L1493.6,873.0 L1495.5,875.3 L1497.4,877.6 L1499.3,879.9 L1501.2,882.2 L1503.1,884.6 L1505.0,886.9 L1506.9,889.2 L1508.8,891.5 L1510.8,893.8 L1512.7,896.1 L1514.6,898.3 L1516.6,900.6 L1518.5,902.9 L1520.5,905.2 L1522.4,907.5 L1524.4,909.7 L1526.4,912.0 L1528.4,914.2 L1530.3,916.5 L1532.3,918.7 L1534.3,921.0 L1536.3,923.2 L1538.3,925.4 L1540.3,927.7 L1542.3,929.9 L1544.3,932.1 L1546.4,934.3 L1548.4,936.5 L1550.4,938.7 L1552.5,940.9 L1554.5,943.1 L1556.6,945.3 L1558.6,947.5 L1560.7,949.6 L1562.8,951.8 L1564.8,954.0 L1566.9,956.1 L1569.0,958.3 L1571.1,960.5 L1573.2,962.6 L1575.3,964.7 L1577.4,966.9 L1579.5,969.0 L1581.6,971.1 L1583.7,973.3 L1585.8,975.4 L1588.0,977.5 L1590.1,979.6 L1592.2,981.7 L1594.4,983.8 L1596.5,985.9 L1598.7,988.0 L1600.9,990.0 L1603.0,992.1 L1605.2,994.2 L1607.4,996.2 L1609.6,998.3 L1611.7,1000.3 L1613.9,1002.4 L1616.1,1004.4 L1618.3,1006.5 L1620.5,1008.5 L1622.8,1010.5 L1625.0,1012.5 L1627.2,1014.5 L1629.4,1016.6 L1631.7,1018.6 L1633.9,1020.6 L1636.1,1022.5 L1638.4,1024.5 L1640.6,1026.5 L1642.9,1028.5 L1645.2,1030.5 L1647.4,1032.4 L1649.7,1034.4 L1652.0,1036.3 L1654.3,1038.3 L1656.6,1040.2 L1658.9,1042.1 L1661.2,1044.1 L1663.5,1046.0 L1665.8,1047.9 L1668.1,1049.8 L1670.4,1051.7 L1672.8,1053.6 L1675.1,1055.5 L1677.4,1057.4 L1679.8,1059.3 L1682.1,1061.2 L1684.5,1063.0 L1686.8,1064.9 L1689.2,1066.7 L1691.5,1068.6 L1693.9,1070.4 L1696.3,1072.3 L1698.7,1074.1 L1701.1,1075.9 L1703.5,1077.7 L1705.9,1079.5 L1708.3,1081.3 L1710.7,1083.1 L1713.1,1084.9 L1715.5,1086.7 L1717.9,1088.5 L1720.4,1090.2 L1722.8,1092.0 L1725.2,1093.7 L1727.7,1095.5 L1730.1,1097.2 L1732.6,1098.9 L1735.1,1100.6 L1737.5,1102.3 L1740.0,1104.0 L1742.5,1105.7 L1745.0,1107.4 L1747.4,1109.1 L1749.9,1110.8 L1752.4,1112.4 L1754.9,1114.1 L1757.4,1115.7 L1760.0,1117.3 L1762.5,1119.0 L1765.0,1120.6 L1767.5,1122.2 L1770.1,1123.8 L1772.6,1125.3 L1775.2,1126.9 L1777.7,1128.5 L1780.3,1130.0 L1782.8,1131.6 L1785.4,1133.1 L1788.0,1134.7 L1790.6,1136.2 L1793.2,1137.7 L1795.7,1139.2 L1798.3,1140.7 L1800.9,1142.1 L1803.5,1143.6 L1806.2,1145.1 L1808.8,1146.5 L1811.4,1148.0 L1814.0,1149.4 L1816.7,1150.8 L1819.3,1152.2 L1822.0,1153.6 L1824.6,1155.0 L1827.3,1156.3 L1829.9,1157.7 L1832.6,1159.1 L1835.3,1160.4 L1838.0,1161.7 L1840.6,1163.0 L1843.3,1164.4 L1846.0,1165.6 L1848.7,1166.9 L1851.4,1168.2 L1854.1,1169.5 L1856.9,1170.7 L1859.6,1172.0 L1862.3,1173.2 L1865.0,1174.4 L1867.8,1175.6 L1870.5,1176.9 L1873.3,1178.1 L1876.0,1179.2 L1878.8,1180.4 L1881.5,1181.6 L1884.3,1182.8 L1887.0,1183.9 L1889.8,1185.1 L1892.6,1186.2 L1895.3,1187.4 L1898.1,1188.5 L1900.9,1189.6 L1903.7,1190.7 L1906.5,1191.8 L1909.3,1192.9 L1912.1,1194.0 L1914.9,1195.1 L1917.7,1196.2 L1920.5,1197.3 L1923.3,1198.3 L1926.1,1199.4 L1928.9,1200.5 L1931.7,1201.5 L1934.5,1202.6 L1937.3,1203.6 L1940.1,1204.7 L1943.0,1205.7 L1945.8,1206.7 L1948.6,1207.8 L1951.4,1208.8 L1954.3,1209.8 L1957.1,1210.8 L1959.9,1211.9 L1962.8,1212.9 L1965.6,1213.9 L1968.4,1214.9 L1971.3,1215.9 L1974.1,1216.9 L1976.9,1217.9 L1979.8,1218.9 L1982.6,1219.9 L1985.4,1220.9 L1988.3,1221.9 L1991.1,1222.9 L1993.9,1223.9 L1996.8,1224.9 L1999.6,1225.9 L2002.5,1226.9 L2005.3,1227.9 L2008.1,1228.8 L2011.0,1229.8 L2013.8,1230.8 L2016.7,1231.8 L2019.5,1232.8 L2022.3,1233.8 L2025.2,1234.8 L2028.0,1235.8 L2030.8,1236.8 L2033.7,1237.8 L2036.5,1238.8 L2039.3,1239.8 L2042.2,1240.7 L2045.0,1241.7 L2047.8,1242.7 L2050.7,1243.7 L2053.5,1244.7 L2056.3,1245.7 L2059.2,1246.7 L2062.0,1247.6 L2064.8,1248.6 L2067.7,1249.6 L2070.5,1250.6 L2073.4,1251.6 L2076.2,1252.5 L2079.0,1253.5 L2081.9,1254.5 L2084.7,1255.4 L2087.5,1256.4 L2090.4,1257.4 L2093.2,1258.3 L2096.1,1259.3 L2098.9,1260.3 L2101.7,1261.2 L2104.6,1262.2 L2107.4,1263.1 L2110.3,1264.1 L2113.1,1265.0 L2115.9,1265.9 L2118.8,1266.9 L2121.6,1267.8 L2124.5,1268.7 L2127.3,1269.7 L2130.2,1270.6 L2133.0,1271.5 L2135.9,1272.4 L2138.7,1273.3 L2141.6,1274.2 L2144.4,1275.2 L2147.3,1276.1 L2150.1,1276.9 L2153.0,1277.8 L2155.9,1278.7 L2158.7,1279.6 L2161.6,1280.5 L2164.4,1281.4 L2167.3,1282.2 L2170.2,1283.1 L2173.0,1284.0 L2175.9,1284.8 L2178.8,1285.7 L2181.7,1286.5 L2184.5,1287.3 L2187.4,1288.2 L2190.3,1289.0 L2193.2,1289.8 L2196.0,1290.6 L2198.9,1291.5 L2201.8,1292.3 L2204.7,1293.1 L2207.6,1293.9 L2210.5,1294.6 L2213.4,1295.4 L2216.3,1296.2 L2219.1,1297.0 L2222.0,1297.7 L2224.9,1298.5 L2227.8,1299.2 L2230.8,1300.0 L2233.7,1300.7 L2236.6,1301.4 L2239.5,1302.2 L2242.4,1302.9 L2245.3,1303.6 L2248.2,1304.3 L2251.1,1305.0 L2254.1,1305.7 L2257.0,1306.3 L2259.9,1307.0 L2262.8,1307.7 L2265.8,1308.3 L2268.7,1309.0 L2271.7,1309.6 L2274.6,1310.2 L2277.5,1310.9 L2280.5,1311.5 L2283.4,1312.1 L2286.4,1312.7 L2289.3,1313.3 L2292.3,1313.8 L2295.3,1314.4 L2298.2,1315.0 L2301.2,1315.5 L2304.2,1316.1 L2307.1,1316.6 L2310.1,1317.1 L2313.1,1317.7 L2316.1,1318.2 L2319.1,1318.7"/>
<g fill="#000" shape-rendering="crispEdges">
<rect x="323" y="60" width="2001" height="5"/>
<rect x="323" y="1362" width="2001" height="5"/>
<rect x="341" y="60" width="5" height="1325"/>
<rect x="2319" y="60" width="5" height="1325"/>
<rect x="328" y="1254" width="13" height="5"/>
<rect x="323" y="1145" width="18" height="5"/>
<rect x="328" y="1036" width="13" height="5"/>
<rect x="323" y="928" width="18" height="5"/>
<rect x="328" y="819" width="13" height="5"/>
<rect x="323" y="711" width="18" height="5"/>
<rect x="328" y="602" width="13" height="5"/>
<rect x="323" y="494" width="18" height="5"/>
<rect x="328" y="386" width="13" height="5"/>
<rect x="323" y="278" width="18" height="5"/>
<rect x="328" y="168" width="13" height="5"/>
<rect x="482" y="1367" width="5" height="13"/>
<rect x="623" y="1367" width="5" height="18"/>
<rect x="765" y="1367" width="5" height="13"/>
<rect x="906" y="1367" width="5" height="18"/>
<rect x="1047" y="1367" width="5" height="13"/>
<rect x="1188" y="1367" width="5" height="18"/>
<rect x="1330" y="1367" width="5" height="13"/>
<rect x="1472" y="1367" width="5" height="18"/>
<rect x="1612" y="1367" width="5" height="13"/>
<rect x="1754" y="1367" width="5" height="18"/>
<rect x="1895" y="1367" width="5" height="13"/>
<rect x="2036" y="1367" width="5" height="18"/>
<rect x="2177" y="1367" width="5" height="13"/>
</g>
<text class="tk" transform="translate(286.5,1386.5) scale(1,1.04)" text-anchor="end">0.00</text>
<text class="tk" transform="translate(286.5,1169.5) scale(1,1.04)" text-anchor="end">0.02</text>
<text class="tk" transform="translate(286.5,952.5) scale(1,1.04)" text-anchor="end">0.04</text>
<text class="tk" transform="translate(286.5,735.5) scale(1,1.04)" text-anchor="end">0.06</text>
<text class="tk" transform="translate(286.5,518.5) scale(1,1.04)" text-anchor="end">0.08</text>
<text class="tk" transform="translate(286.5,301.5) scale(1,1.04)" text-anchor="end">0.10</text>
<text class="tk" transform="translate(286.5,84.5) scale(1,1.04)" text-anchor="end">0.12</text>
<text class="tk" transform="translate(343.5,1465) scale(1,1.04)" text-anchor="middle">0</text>
<text class="tk" transform="translate(626.1,1465) scale(1,1.04)" text-anchor="middle">100</text>
<text class="tk" transform="translate(908.6,1465) scale(1,1.04)" text-anchor="middle">200</text>
<text class="tk" transform="translate(1191.2,1465) scale(1,1.04)" text-anchor="middle">300</text>
<text class="tk" transform="translate(1473.8,1465) scale(1,1.04)" text-anchor="middle">400</text>
<text class="tk" transform="translate(1756.4,1465) scale(1,1.04)" text-anchor="middle">500</text>
<text class="tk" transform="translate(2038.9,1465) scale(1,1.04)" text-anchor="middle">600</text>
<text class="tk" transform="translate(2321.5,1465) scale(1,1.04)" text-anchor="middle">700</text>
<text class="ax" transform="translate(1333.5,1569) scale(1,1.04)" text-anchor="middle" letter-spacing="0.1">Temperature (°C)</text>
<text class="ax" transform="translate(101,716) rotate(-90) scale(1,1.04)" text-anchor="middle" letter-spacing="0.14">Intensity (arb. units)</text>
<line x1="1693.5" y1="177.5" x2="1853.5" y2="177.5" stroke="#ff00ff" stroke-width="5" stroke-linecap="round"/>
<text class="lg" transform="translate(1870.4,196.0) scale(1,1.04)">Ba/Co/5Mg-Al</text>
<line x1="1693.5" y1="292.5" x2="1853.5" y2="292.5" stroke="#0000ff" stroke-width="5" stroke-linecap="round"/>
<text class="lg" transform="translate(1870.4,311.0) scale(1,1.04)">Ba/Co/4Mg-Al</text>
<line x1="1693.5" y1="406.5" x2="1853.5" y2="406.5" stroke="#ff0000" stroke-width="5" stroke-linecap="round"/>
<text class="lg" transform="translate(1870.4,426.0) scale(1,1.04)">Ba/Co/3Mg-Al</text>
<line x1="1693.5" y1="521.5" x2="1853.5" y2="521.5" stroke="#000000" stroke-width="5" stroke-linecap="round"/>
<text class="lg" transform="translate(1870.4,541.0) scale(1,1.04)">Ba/Co/2Mg-Al</text>
</svg></body></html>
